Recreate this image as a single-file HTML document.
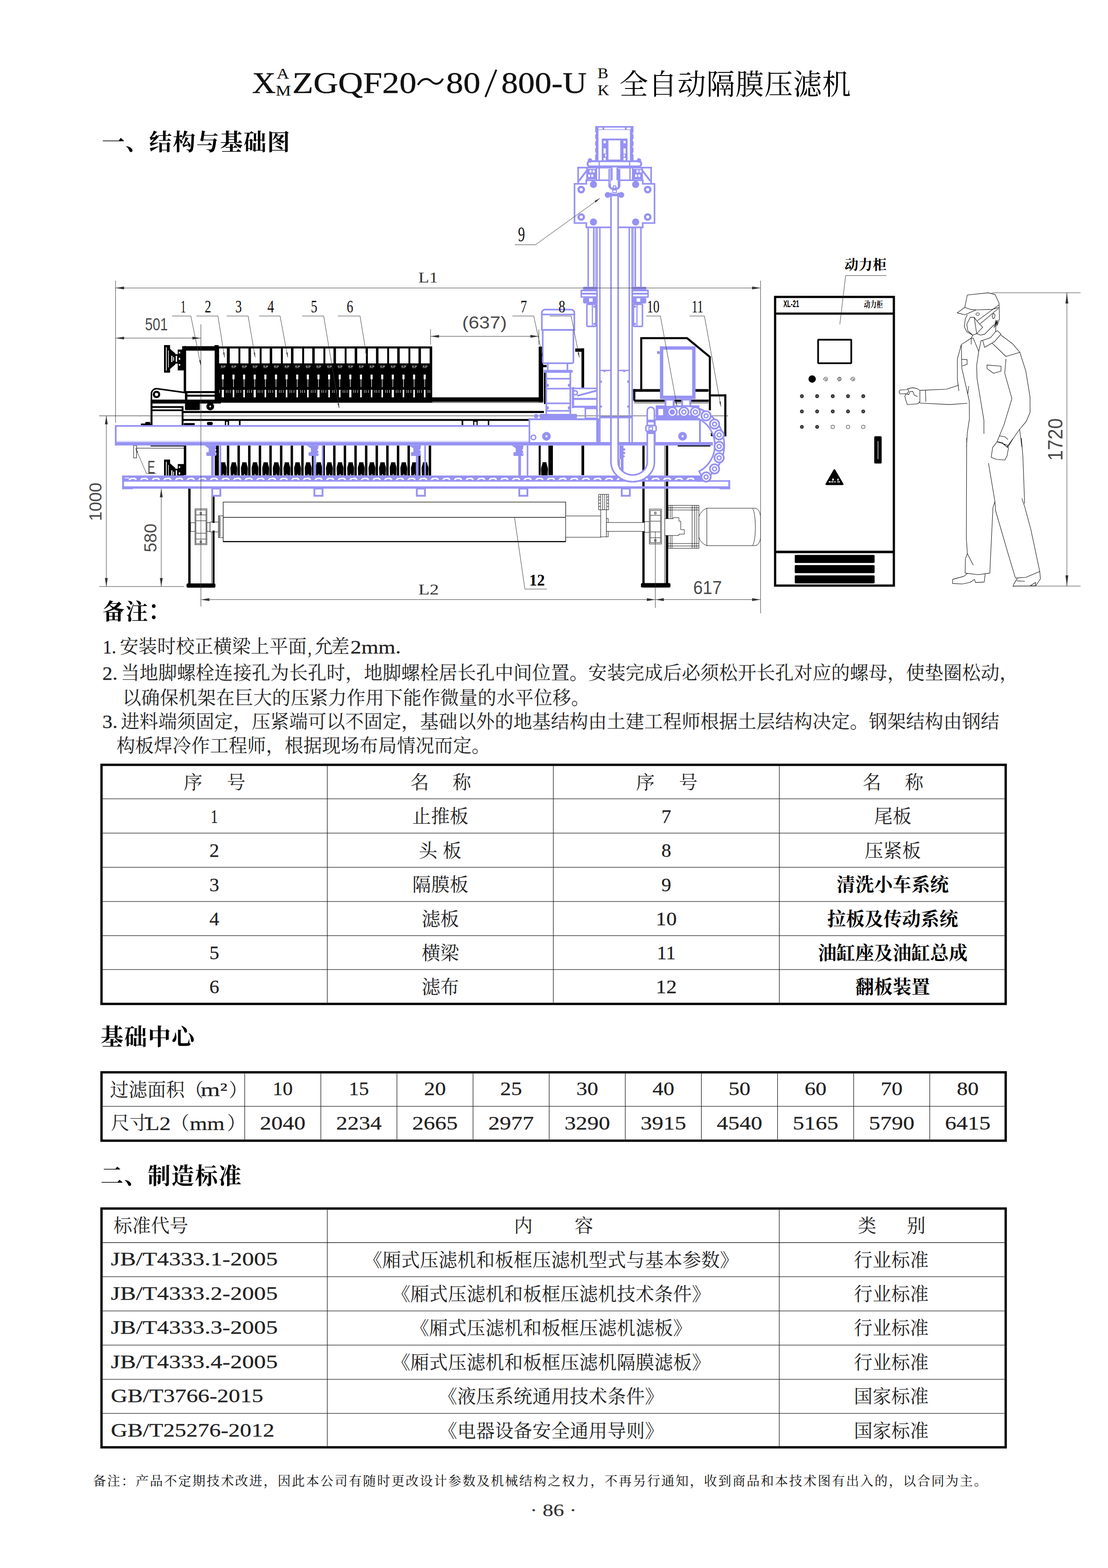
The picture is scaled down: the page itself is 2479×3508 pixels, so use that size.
<!DOCTYPE html>
<html lang="zh"><head><meta charset="utf-8"><title>XZGQF20~80/800-U</title>
<style>
html,body{margin:0;padding:0;background:#fff}
body{width:2479px;height:3508px;overflow:hidden}
svg{display:block}
svg{font-family:"Liberation Serif","Noto Serif CJK SC",serif}
text{white-space:pre}
</style></head><body>
<svg width="2479" height="3508" viewBox="0 0 2479 3508">
<rect width="2479" height="3508" fill="#fff"/>
<rect x="488" y="775" width="479" height="125" fill="#000"/>
<rect x="480" y="772" width="9" height="10" fill="#000"/>
<rect x="490.2" y="779.6" width="17.4" height="33.4" fill="#fff"/>
<rect x="514" y="779.6" width="19.5" height="33.4" fill="#fff"/>
<rect x="537.7" y="779.6" width="18.2" height="33.4" fill="#fff"/>
<rect x="561.5" y="779.6" width="19.5" height="33.4" fill="#fff"/>
<rect x="585.3" y="779.6" width="18.2" height="33.4" fill="#fff"/>
<rect x="609" y="779.6" width="19.5" height="33.4" fill="#fff"/>
<rect x="632.8" y="779.6" width="18.2" height="33.4" fill="#fff"/>
<rect x="656.6" y="779.6" width="19.5" height="33.4" fill="#fff"/>
<rect x="680.4" y="779.6" width="18.2" height="33.4" fill="#fff"/>
<rect x="704.1" y="779.6" width="19.5" height="33.4" fill="#fff"/>
<rect x="727.9" y="779.6" width="18.2" height="33.4" fill="#fff"/>
<rect x="751.7" y="779.6" width="19.5" height="33.4" fill="#fff"/>
<rect x="775.4" y="779.6" width="18.2" height="33.4" fill="#fff"/>
<rect x="799.2" y="779.6" width="19.5" height="33.4" fill="#fff"/>
<rect x="823" y="779.6" width="18.2" height="33.4" fill="#fff"/>
<rect x="846.8" y="779.6" width="19.5" height="33.4" fill="#fff"/>
<rect x="870.5" y="779.6" width="18.2" height="33.4" fill="#fff"/>
<rect x="894.3" y="779.6" width="19.5" height="33.4" fill="#fff"/>
<rect x="918.1" y="779.6" width="18.2" height="33.4" fill="#fff"/>
<rect x="941.8" y="779.6" width="19.5" height="33.4" fill="#fff"/>
<rect x="494.1" y="818.6" width="4" height="1.6" fill="#fff"/>
<rect x="499.6" y="818.6" width="5" height="1.6" fill="#fff"/>
<rect x="494.1" y="822" width="9" height="0.8" fill="#fff"/>
<rect x="496.3" y="838" width="4.6" height="10.5" fill="#fff"/>
<rect x="498" y="848" width="1.2" height="18" fill="#fff"/>
<rect x="496.2" y="872" width="4.8" height="17" fill="#fff"/>
<rect x="490.8" y="872.5" width="1" height="6.5" fill="#fff"/>
<rect x="505.7" y="872.5" width="1" height="6.5" fill="#fff"/>
<rect x="509.6" y="872.5" width="1" height="6.5" fill="#fff"/>
<rect x="517.9" y="818.6" width="4" height="1.6" fill="#fff"/>
<rect x="523.4" y="818.6" width="5" height="1.6" fill="#fff"/>
<rect x="517.9" y="822" width="9" height="0.8" fill="#fff"/>
<rect x="520.1" y="838" width="4.6" height="10.5" fill="#fff"/>
<rect x="521.8" y="848" width="1.2" height="18" fill="#fff"/>
<rect x="520.7" y="872" width="3.4" height="17" fill="#fff"/>
<rect x="514.6" y="872.5" width="1" height="6.5" fill="#fff"/>
<rect x="529.5" y="872.5" width="1" height="6.5" fill="#fff"/>
<rect x="533.4" y="872.5" width="1" height="6.5" fill="#fff"/>
<rect x="541.6" y="818.6" width="4" height="1.6" fill="#fff"/>
<rect x="547.1" y="818.6" width="5" height="1.6" fill="#fff"/>
<rect x="541.6" y="822" width="9" height="0.8" fill="#fff"/>
<rect x="543.8" y="838" width="4.6" height="10.5" fill="#fff"/>
<rect x="545.5" y="848" width="1.2" height="18" fill="#fff"/>
<rect x="544.4" y="872" width="3.4" height="17" fill="#fff"/>
<rect x="538.3" y="872.5" width="1" height="6.5" fill="#fff"/>
<rect x="553.2" y="872.5" width="1" height="6.5" fill="#fff"/>
<rect x="557.1" y="872.5" width="1" height="6.5" fill="#fff"/>
<rect x="565.4" y="818.6" width="4" height="1.6" fill="#fff"/>
<rect x="570.9" y="818.6" width="5" height="1.6" fill="#fff"/>
<rect x="565.4" y="822" width="9" height="0.8" fill="#fff"/>
<rect x="567.6" y="838" width="4.6" height="10.5" fill="#fff"/>
<rect x="569.3" y="848" width="1.2" height="18" fill="#fff"/>
<rect x="567.5" y="872" width="4.8" height="17" fill="#fff"/>
<rect x="562.1" y="872.5" width="1" height="6.5" fill="#fff"/>
<rect x="577" y="872.5" width="1" height="6.5" fill="#fff"/>
<rect x="580.9" y="872.5" width="1" height="6.5" fill="#fff"/>
<rect x="589.2" y="818.6" width="4" height="1.6" fill="#fff"/>
<rect x="594.7" y="818.6" width="5" height="1.6" fill="#fff"/>
<rect x="589.2" y="822" width="9" height="0.8" fill="#fff"/>
<rect x="591.4" y="838" width="4.6" height="10.5" fill="#fff"/>
<rect x="593.1" y="848" width="1.2" height="18" fill="#fff"/>
<rect x="592" y="872" width="3.4" height="17" fill="#fff"/>
<rect x="585.9" y="872.5" width="1" height="6.5" fill="#fff"/>
<rect x="600.8" y="872.5" width="1" height="6.5" fill="#fff"/>
<rect x="604.7" y="872.5" width="1" height="6.5" fill="#fff"/>
<rect x="613" y="818.6" width="4" height="1.6" fill="#fff"/>
<rect x="618.5" y="818.6" width="5" height="1.6" fill="#fff"/>
<rect x="613" y="822" width="9" height="0.8" fill="#fff"/>
<rect x="615.2" y="838" width="4.6" height="10.5" fill="#fff"/>
<rect x="616.9" y="848" width="1.2" height="18" fill="#fff"/>
<rect x="615.8" y="872" width="3.4" height="17" fill="#fff"/>
<rect x="609.7" y="872.5" width="1" height="6.5" fill="#fff"/>
<rect x="624.6" y="872.5" width="1" height="6.5" fill="#fff"/>
<rect x="628.5" y="872.5" width="1" height="6.5" fill="#fff"/>
<rect x="636.7" y="818.6" width="4" height="1.6" fill="#fff"/>
<rect x="642.2" y="818.6" width="5" height="1.6" fill="#fff"/>
<rect x="636.7" y="822" width="9" height="0.8" fill="#fff"/>
<rect x="638.9" y="838" width="4.6" height="10.5" fill="#fff"/>
<rect x="640.6" y="848" width="1.2" height="18" fill="#fff"/>
<rect x="639.5" y="872" width="3.4" height="17" fill="#fff"/>
<rect x="633.4" y="872.5" width="1" height="6.5" fill="#fff"/>
<rect x="648.3" y="872.5" width="1" height="6.5" fill="#fff"/>
<rect x="652.2" y="872.5" width="1" height="6.5" fill="#fff"/>
<rect x="660.5" y="818.6" width="4" height="1.6" fill="#fff"/>
<rect x="666" y="818.6" width="5" height="1.6" fill="#fff"/>
<rect x="660.5" y="822" width="9" height="0.8" fill="#fff"/>
<rect x="662.7" y="838" width="4.6" height="10.5" fill="#fff"/>
<rect x="664.4" y="848" width="1.2" height="18" fill="#fff"/>
<rect x="663.3" y="872" width="3.4" height="17" fill="#fff"/>
<rect x="657.2" y="872.5" width="1" height="6.5" fill="#fff"/>
<rect x="672.1" y="872.5" width="1" height="6.5" fill="#fff"/>
<rect x="676" y="872.5" width="1" height="6.5" fill="#fff"/>
<rect x="684.3" y="818.6" width="4" height="1.6" fill="#fff"/>
<rect x="689.8" y="818.6" width="5" height="1.6" fill="#fff"/>
<rect x="684.3" y="822" width="9" height="0.8" fill="#fff"/>
<rect x="686.5" y="838" width="4.6" height="10.5" fill="#fff"/>
<rect x="688.2" y="848" width="1.2" height="18" fill="#fff"/>
<rect x="687.1" y="872" width="3.4" height="17" fill="#fff"/>
<rect x="681" y="872.5" width="1" height="6.5" fill="#fff"/>
<rect x="695.9" y="872.5" width="1" height="6.5" fill="#fff"/>
<rect x="699.8" y="872.5" width="1" height="6.5" fill="#fff"/>
<rect x="708" y="818.6" width="4" height="1.6" fill="#fff"/>
<rect x="713.5" y="818.6" width="5" height="1.6" fill="#fff"/>
<rect x="708" y="822" width="9" height="0.8" fill="#fff"/>
<rect x="710.2" y="838" width="4.6" height="10.5" fill="#fff"/>
<rect x="711.9" y="848" width="1.2" height="18" fill="#fff"/>
<rect x="710.1" y="872" width="4.8" height="17" fill="#fff"/>
<rect x="704.7" y="872.5" width="1" height="6.5" fill="#fff"/>
<rect x="719.6" y="872.5" width="1" height="6.5" fill="#fff"/>
<rect x="723.5" y="872.5" width="1" height="6.5" fill="#fff"/>
<rect x="731.8" y="818.6" width="4" height="1.6" fill="#fff"/>
<rect x="737.3" y="818.6" width="5" height="1.6" fill="#fff"/>
<rect x="731.8" y="822" width="9" height="0.8" fill="#fff"/>
<rect x="734" y="838" width="4.6" height="10.5" fill="#fff"/>
<rect x="735.7" y="848" width="1.2" height="18" fill="#fff"/>
<rect x="734.6" y="872" width="3.4" height="17" fill="#fff"/>
<rect x="728.5" y="872.5" width="1" height="6.5" fill="#fff"/>
<rect x="743.4" y="872.5" width="1" height="6.5" fill="#fff"/>
<rect x="747.3" y="872.5" width="1" height="6.5" fill="#fff"/>
<rect x="755.6" y="818.6" width="4" height="1.6" fill="#fff"/>
<rect x="761.1" y="818.6" width="5" height="1.6" fill="#fff"/>
<rect x="755.6" y="822" width="9" height="0.8" fill="#fff"/>
<rect x="757.8" y="838" width="4.6" height="10.5" fill="#fff"/>
<rect x="759.5" y="848" width="1.2" height="18" fill="#fff"/>
<rect x="758.4" y="872" width="3.4" height="17" fill="#fff"/>
<rect x="752.3" y="872.5" width="1" height="6.5" fill="#fff"/>
<rect x="767.2" y="872.5" width="1" height="6.5" fill="#fff"/>
<rect x="771.1" y="872.5" width="1" height="6.5" fill="#fff"/>
<rect x="779.3" y="818.6" width="4" height="1.6" fill="#fff"/>
<rect x="784.8" y="818.6" width="5" height="1.6" fill="#fff"/>
<rect x="779.3" y="822" width="9" height="0.8" fill="#fff"/>
<rect x="781.5" y="838" width="4.6" height="10.5" fill="#fff"/>
<rect x="783.2" y="848" width="1.2" height="18" fill="#fff"/>
<rect x="781.4" y="872" width="4.8" height="17" fill="#fff"/>
<rect x="776" y="872.5" width="1" height="6.5" fill="#fff"/>
<rect x="790.9" y="872.5" width="1" height="6.5" fill="#fff"/>
<rect x="794.8" y="872.5" width="1" height="6.5" fill="#fff"/>
<rect x="803.1" y="818.6" width="4" height="1.6" fill="#fff"/>
<rect x="808.6" y="818.6" width="5" height="1.6" fill="#fff"/>
<rect x="803.1" y="822" width="9" height="0.8" fill="#fff"/>
<rect x="805.3" y="838" width="4.6" height="10.5" fill="#fff"/>
<rect x="807" y="848" width="1.2" height="18" fill="#fff"/>
<rect x="805.9" y="872" width="3.4" height="17" fill="#fff"/>
<rect x="799.8" y="872.5" width="1" height="6.5" fill="#fff"/>
<rect x="814.7" y="872.5" width="1" height="6.5" fill="#fff"/>
<rect x="818.6" y="872.5" width="1" height="6.5" fill="#fff"/>
<rect x="826.9" y="818.6" width="4" height="1.6" fill="#fff"/>
<rect x="832.4" y="818.6" width="5" height="1.6" fill="#fff"/>
<rect x="826.9" y="822" width="9" height="0.8" fill="#fff"/>
<rect x="829.1" y="838" width="4.6" height="10.5" fill="#fff"/>
<rect x="830.8" y="848" width="1.2" height="18" fill="#fff"/>
<rect x="829.7" y="872" width="3.4" height="17" fill="#fff"/>
<rect x="823.6" y="872.5" width="1" height="6.5" fill="#fff"/>
<rect x="838.5" y="872.5" width="1" height="6.5" fill="#fff"/>
<rect x="842.4" y="872.5" width="1" height="6.5" fill="#fff"/>
<rect x="850.7" y="818.6" width="4" height="1.6" fill="#fff"/>
<rect x="856.2" y="818.6" width="5" height="1.6" fill="#fff"/>
<rect x="850.7" y="822" width="9" height="0.8" fill="#fff"/>
<rect x="852.9" y="838" width="4.6" height="10.5" fill="#fff"/>
<rect x="854.6" y="848" width="1.2" height="18" fill="#fff"/>
<rect x="853.5" y="872" width="3.4" height="17" fill="#fff"/>
<rect x="847.4" y="872.5" width="1" height="6.5" fill="#fff"/>
<rect x="862.3" y="872.5" width="1" height="6.5" fill="#fff"/>
<rect x="866.2" y="872.5" width="1" height="6.5" fill="#fff"/>
<rect x="874.4" y="818.6" width="4" height="1.6" fill="#fff"/>
<rect x="879.9" y="818.6" width="5" height="1.6" fill="#fff"/>
<rect x="874.4" y="822" width="9" height="0.8" fill="#fff"/>
<rect x="876.6" y="838" width="4.6" height="10.5" fill="#fff"/>
<rect x="878.3" y="848" width="1.2" height="18" fill="#fff"/>
<rect x="876.5" y="872" width="4.8" height="17" fill="#fff"/>
<rect x="871.1" y="872.5" width="1" height="6.5" fill="#fff"/>
<rect x="886" y="872.5" width="1" height="6.5" fill="#fff"/>
<rect x="889.9" y="872.5" width="1" height="6.5" fill="#fff"/>
<rect x="898.2" y="818.6" width="4" height="1.6" fill="#fff"/>
<rect x="903.7" y="818.6" width="5" height="1.6" fill="#fff"/>
<rect x="898.2" y="822" width="9" height="0.8" fill="#fff"/>
<rect x="900.4" y="838" width="4.6" height="10.5" fill="#fff"/>
<rect x="902.1" y="848" width="1.2" height="18" fill="#fff"/>
<rect x="901" y="872" width="3.4" height="17" fill="#fff"/>
<rect x="894.9" y="872.5" width="1" height="6.5" fill="#fff"/>
<rect x="909.8" y="872.5" width="1" height="6.5" fill="#fff"/>
<rect x="913.7" y="872.5" width="1" height="6.5" fill="#fff"/>
<rect x="922" y="818.6" width="4" height="1.6" fill="#fff"/>
<rect x="927.5" y="818.6" width="5" height="1.6" fill="#fff"/>
<rect x="922" y="822" width="9" height="0.8" fill="#fff"/>
<rect x="924.2" y="838" width="4.6" height="10.5" fill="#fff"/>
<rect x="925.9" y="848" width="1.2" height="18" fill="#fff"/>
<rect x="924.8" y="872" width="3.4" height="17" fill="#fff"/>
<rect x="918.7" y="872.5" width="1" height="6.5" fill="#fff"/>
<rect x="933.6" y="872.5" width="1" height="6.5" fill="#fff"/>
<rect x="937.5" y="872.5" width="1" height="6.5" fill="#fff"/>
<rect x="945.7" y="818.6" width="4" height="1.6" fill="#fff"/>
<rect x="951.2" y="818.6" width="5" height="1.6" fill="#fff"/>
<rect x="945.7" y="822" width="9" height="0.8" fill="#fff"/>
<rect x="947.9" y="838" width="4.6" height="10.5" fill="#fff"/>
<rect x="949.6" y="848" width="1.2" height="18" fill="#fff"/>
<rect x="948.5" y="872" width="3.4" height="17" fill="#fff"/>
<rect x="942.4" y="872.5" width="1" height="6.5" fill="#fff"/>
<rect x="957.3" y="872.5" width="1" height="6.5" fill="#fff"/>
<rect x="961.2" y="872.5" width="1" height="6.5" fill="#fff"/>
<rect x="407.5" y="774.5" width="82" height="10" fill="#000"/>
<rect x="411" y="774.5" width="5.4" height="105" fill="#000"/>
<rect x="480.3" y="774.5" width="9" height="125" fill="#000"/>
<rect x="411" y="875" width="78" height="4.5" fill="#000"/>
<rect x="416" y="883" width="73" height="4.4" fill="#000"/>
<rect x="337" y="894" width="157" height="8.8" fill="#000"/>
<rect x="413.8" y="902" width="33.5" height="15.5" fill="#000" rx="2"/>
<circle cx="470.4" cy="909.3" r="5.4" fill="#fff" stroke="#000" stroke-width="6.6"/>
<g transform="translate(0 0)">
<rect x="367" y="772" width="13.5" height="61.7" fill="#000"/>
<rect x="371.2" y="777" width="1.8" height="52" fill="#fff"/>
<rect x="376" y="784" width="1.4" height="38" fill="#fff"/>
<path d="M380.5 781 L392 791 L392 815 L380.5 825 Z" fill="#000" stroke="#000" stroke-width="1" />
<rect x="383.2" y="796" width="2.4" height="14" fill="#fff"/>
<rect x="387.4" y="799" width="2" height="8" fill="#fff"/>
<rect x="391" y="792.5" width="7.5" height="21" fill="#000"/>
<rect x="393.2" y="796" width="3" height="13.5" fill="#fff"/>
<rect x="397.7" y="782" width="14.5" height="46.7" fill="#000"/>
<rect x="400" y="787" width="3.2" height="3.6" fill="#fff"/>
<rect x="400" y="800.5" width="3.2" height="4.6" fill="#fff"/>
<rect x="400" y="814.5" width="3.2" height="3.6" fill="#fff"/>
</g>
<circle cx="350.2" cy="882.5" r="6" fill="#fff" stroke="#000" stroke-width="4.7"/>
<path d="M338.8 896 L338.8 881 A11.5 11.5 0 0 1 351.5 869.6 L413.8 878.2" fill="none" stroke="#000" stroke-width="3.4" />
<rect x="336.8" y="894" width="4.4" height="57" fill="#000"/>
<rect x="341" y="908.6" width="69" height="4" fill="#000"/>
<rect x="341" y="916" width="66" height="3.7" fill="#000"/>
<rect x="413.8" y="875" width="5.4" height="20" fill="#000"/>
<rect x="406.4" y="909" width="4.2" height="42" fill="#000"/>
<rect x="315" y="947.5" width="22" height="3.5" fill="#000" rx="1.5"/>
<rect x="325" y="944" width="11" height="4" fill="#000" rx="1.5"/>
<rect x="411" y="946.5" width="25" height="4.5" fill="#000" rx="2"/>
<rect x="463" y="944" width="13" height="7" fill="#000" rx="3"/>
<rect x="410" y="919.4" width="807" height="4.6" fill="#000"/>
<rect x="410" y="937.4" width="773" height="4.2" fill="#000"/>
<line x1="494" y1="900.6" x2="1215" y2="900.6" stroke="#000" stroke-width="1"/>
<rect x="1032.8" y="941" width="3.6" height="10" fill="#000"/>
<rect x="1058.7" y="941" width="2.4" height="10" fill="#000"/>
<rect x="1066.2" y="941" width="2.4" height="10" fill="#000"/>
<rect x="1091.5" y="941" width="3" height="10" fill="#000"/>
<rect x="1058.7" y="941" width="10" height="3" fill="#000"/>
<rect x="503" y="941" width="9.5" height="10" fill="#000"/>
<rect x="506" y="943.5" width="3.4" height="7.5" fill="#fff"/>
<rect x="534.6" y="941" width="3.6" height="10" fill="#000"/>
<rect x="1061.6" y="943.5" width="3.4" height="7.5" fill="#fff"/>
<rect x="966.8" y="889" width="248.4" height="10" fill="#000"/>
<rect x="1205.3" y="775.5" width="10" height="124" fill="#000"/>
<rect x="1217" y="832" width="5" height="72" fill="#000"/>
<rect x="1215" y="816.5" width="8" height="5" fill="#000"/>
<rect x="1287" y="779.5" width="20" height="7.5" fill="#000"/>
<rect x="1301" y="779.5" width="6" height="88" fill="#000"/>
<path d="M1434.7 872 L1434.7 756.5 L1537.2 756.5 L1588.2 798.5 L1588.2 918" fill="none" stroke="#000" stroke-width="4.6" />
<rect x="1416.5" y="870.5" width="169" height="6" fill="#000" rx="2"/>
<rect x="1419" y="894" width="166.5" height="5.2" fill="#000"/>
<line x1="1419" y1="901.5" x2="1585" y2="901.5" stroke="#000" stroke-width="1"/>
<rect x="1416.5" y="870.5" width="5" height="26" fill="#000"/>
<rect x="1588" y="882.3" width="37" height="4.6" fill="#000"/>
<rect x="1620.4" y="882.3" width="4.8" height="94" fill="#000"/>
<rect x="1590.5" y="952" width="8" height="4" fill="#000"/>
<rect x="1590.5" y="968" width="6" height="8" fill="#000"/>
<rect x="1516.3" y="995.7" width="73" height="3.2" fill="#000"/>
<line x1="221.8" y1="930.3" x2="1629" y2="930.3" stroke="#222" stroke-width="1"/>
<rect x="480.4" y="996.8" width="9.3" height="67" fill="#000"/>
<rect x="507.6" y="996.8" width="5.4" height="67" fill="#000"/>
<rect x="531.3" y="996.8" width="5.4" height="67" fill="#000"/>
<rect x="555.1" y="996.8" width="5.4" height="67" fill="#000"/>
<rect x="578.9" y="996.8" width="5.4" height="67" fill="#000"/>
<rect x="602.6" y="996.8" width="5.4" height="67" fill="#000"/>
<rect x="626.4" y="996.8" width="5.4" height="67" fill="#000"/>
<rect x="650.2" y="996.8" width="5.4" height="67" fill="#000"/>
<rect x="674" y="996.8" width="5.4" height="67" fill="#000"/>
<rect x="697.7" y="996.8" width="5.4" height="67" fill="#000"/>
<rect x="721.5" y="996.8" width="5.4" height="67" fill="#000"/>
<rect x="745.3" y="996.8" width="5.4" height="67" fill="#000"/>
<rect x="769" y="996.8" width="5.4" height="67" fill="#000"/>
<rect x="792.8" y="996.8" width="5.4" height="67" fill="#000"/>
<rect x="816.6" y="996.8" width="5.4" height="67" fill="#000"/>
<rect x="840.3" y="996.8" width="5.4" height="67" fill="#000"/>
<rect x="864.1" y="996.8" width="5.4" height="67" fill="#000"/>
<rect x="887.9" y="996.8" width="5.4" height="67" fill="#000"/>
<rect x="911.7" y="996.8" width="5.4" height="67" fill="#000"/>
<rect x="935.4" y="996.8" width="5.4" height="67" fill="#000"/>
<rect x="959.2" y="996.8" width="5.4" height="67" fill="#000"/>
<path d="M492.2 1063.5 L491.6 1048 C491.6 1043 494 1041 494.6 1034.2 L504 1034.2 C504.6 1041 507 1043 507 1048 L506.4 1063.5 Z" fill="#000" stroke="none" stroke-width="0" />
<rect x="498.5" y="1060.5" width="1.6" height="3" fill="#fff"/>
<path d="M516 1063.5 L515.4 1048 C515.4 1043 517.8 1041 518.4 1034.2 L527.8 1034.2 C528.4 1041 530.8 1043 530.8 1048 L530.2 1063.5 Z" fill="#000" stroke="none" stroke-width="0" />
<rect x="522.3" y="1060.5" width="1.6" height="3" fill="#fff"/>
<path d="M539.7 1063.5 L539.1 1048 C539.1 1043 541.5 1041 542.1 1034.2 L551.5 1034.2 C552.1 1041 554.5 1043 554.5 1048 L553.9 1063.5 Z" fill="#000" stroke="none" stroke-width="0" />
<rect x="546" y="1060.5" width="1.6" height="3" fill="#fff"/>
<path d="M563.5 1063.5 L562.9 1048 C562.9 1043 565.3 1041 565.9 1034.2 L575.3 1034.2 C575.9 1041 578.3 1043 578.3 1048 L577.7 1063.5 Z" fill="#000" stroke="none" stroke-width="0" />
<rect x="569.8" y="1060.5" width="1.6" height="3" fill="#fff"/>
<path d="M587.3 1063.5 L586.7 1048 C586.7 1043 589.1 1041 589.7 1034.2 L599.1 1034.2 C599.7 1041 602.1 1043 602.1 1048 L601.5 1063.5 Z" fill="#000" stroke="none" stroke-width="0" />
<rect x="593.6" y="1060.5" width="1.6" height="3" fill="#fff"/>
<path d="M611 1063.5 L610.4 1048 C610.4 1043 612.9 1041 613.4 1034.2 L622.9 1034.2 C623.4 1041 625.9 1043 625.9 1048 L625.2 1063.5 Z" fill="#000" stroke="none" stroke-width="0" />
<rect x="617.4" y="1060.5" width="1.6" height="3" fill="#fff"/>
<path d="M634.8 1063.5 L634.2 1048 C634.2 1043 636.6 1041 637.2 1034.2 L646.6 1034.2 C647.2 1041 649.6 1043 649.6 1048 L649 1063.5 Z" fill="#000" stroke="none" stroke-width="0" />
<rect x="641.1" y="1060.5" width="1.6" height="3" fill="#fff"/>
<path d="M658.6 1063.5 L658 1048 C658 1043 660.4 1041 661 1034.2 L670.4 1034.2 C671 1041 673.4 1043 673.4 1048 L672.8 1063.5 Z" fill="#000" stroke="none" stroke-width="0" />
<rect x="664.9" y="1060.5" width="1.6" height="3" fill="#fff"/>
<path d="M682.4 1063.5 L681.8 1048 C681.8 1043 684.2 1041 684.8 1034.2 L694.2 1034.2 C694.8 1041 697.2 1043 697.2 1048 L696.6 1063.5 Z" fill="#000" stroke="none" stroke-width="0" />
<rect x="688.7" y="1060.5" width="1.6" height="3" fill="#fff"/>
<path d="M706.1 1063.5 L705.5 1048 C705.5 1043 707.9 1041 708.5 1034.2 L717.9 1034.2 C718.5 1041 720.9 1043 720.9 1048 L720.3 1063.5 Z" fill="#000" stroke="none" stroke-width="0" />
<rect x="712.4" y="1060.5" width="1.6" height="3" fill="#fff"/>
<path d="M729.9 1063.5 L729.3 1048 C729.3 1043 731.7 1041 732.3 1034.2 L741.7 1034.2 C742.3 1041 744.7 1043 744.7 1048 L744.1 1063.5 Z" fill="#000" stroke="none" stroke-width="0" />
<rect x="736.2" y="1060.5" width="1.6" height="3" fill="#fff"/>
<path d="M753.7 1063.5 L753.1 1048 C753.1 1043 755.5 1041 756.1 1034.2 L765.5 1034.2 C766.1 1041 768.5 1043 768.5 1048 L767.9 1063.5 Z" fill="#000" stroke="none" stroke-width="0" />
<rect x="760" y="1060.5" width="1.6" height="3" fill="#fff"/>
<path d="M777.4 1063.5 L776.8 1048 C776.8 1043 779.2 1041 779.8 1034.2 L789.2 1034.2 C789.8 1041 792.2 1043 792.2 1048 L791.6 1063.5 Z" fill="#000" stroke="none" stroke-width="0" />
<rect x="783.7" y="1060.5" width="1.6" height="3" fill="#fff"/>
<path d="M801.2 1063.5 L800.6 1048 C800.6 1043 803 1041 803.6 1034.2 L813 1034.2 C813.6 1041 816 1043 816 1048 L815.4 1063.5 Z" fill="#000" stroke="none" stroke-width="0" />
<rect x="807.5" y="1060.5" width="1.6" height="3" fill="#fff"/>
<path d="M825 1063.5 L824.4 1048 C824.4 1043 826.8 1041 827.4 1034.2 L836.8 1034.2 C837.4 1041 839.8 1043 839.8 1048 L839.2 1063.5 Z" fill="#000" stroke="none" stroke-width="0" />
<rect x="831.3" y="1060.5" width="1.6" height="3" fill="#fff"/>
<path d="M848.8 1063.5 L848.1 1048 C848.1 1043 850.6 1041 851.1 1034.2 L860.6 1034.2 C861.1 1041 863.6 1043 863.6 1048 L863 1063.5 Z" fill="#000" stroke="none" stroke-width="0" />
<rect x="855.1" y="1060.5" width="1.6" height="3" fill="#fff"/>
<path d="M872.5 1063.5 L871.9 1048 C871.9 1043 874.3 1041 874.9 1034.2 L884.3 1034.2 C884.9 1041 887.3 1043 887.3 1048 L886.7 1063.5 Z" fill="#000" stroke="none" stroke-width="0" />
<rect x="878.8" y="1060.5" width="1.6" height="3" fill="#fff"/>
<path d="M896.3 1063.5 L895.7 1048 C895.7 1043 898.1 1041 898.7 1034.2 L908.1 1034.2 C908.7 1041 911.1 1043 911.1 1048 L910.5 1063.5 Z" fill="#000" stroke="none" stroke-width="0" />
<rect x="902.6" y="1060.5" width="1.6" height="3" fill="#fff"/>
<path d="M920.1 1063.5 L919.5 1048 C919.5 1043 921.9 1041 922.5 1034.2 L931.9 1034.2 C932.5 1041 934.9 1043 934.9 1048 L934.3 1063.5 Z" fill="#000" stroke="none" stroke-width="0" />
<rect x="926.4" y="1060.5" width="1.6" height="3" fill="#fff"/>
<path d="M943.8 1063.5 L943.2 1048 C943.2 1043 945.6 1041 946.2 1034.2 L955.6 1034.2 C956.2 1041 958.6 1043 958.6 1048 L958 1063.5 Z" fill="#000" stroke="none" stroke-width="0" />
<rect x="950.1" y="1060.5" width="1.6" height="3" fill="#fff"/>
<rect x="336.8" y="996.8" width="79" height="2" fill="#000"/>
<line x1="305" y1="1002.7" x2="412" y2="1002.7" stroke="#000" stroke-width="1"/>
<rect x="411.3" y="996.8" width="5.4" height="66" fill="#000"/>
<clipPath id="cpw"><rect x="360" y="760" width="60" height="47.6"/></clipPath>
<g transform="translate(0 256.2)" clip-path="url(#cpw)">
<rect x="367" y="772" width="13.5" height="61.7" fill="#000"/>
<rect x="371.2" y="777" width="1.8" height="52" fill="#fff"/>
<rect x="376" y="784" width="1.4" height="38" fill="#fff"/>
<path d="M380.5 781 L392 791 L392 815 L380.5 825 Z" fill="#000" stroke="#000" stroke-width="1" />
<rect x="383.2" y="796" width="2.4" height="14" fill="#fff"/>
<rect x="387.4" y="799" width="2" height="8" fill="#fff"/>
<rect x="391" y="792.5" width="7.5" height="21" fill="#000"/>
<rect x="393.2" y="796" width="3" height="13.5" fill="#fff"/>
<rect x="397.7" y="782" width="14.5" height="46.7" fill="#000"/>
<rect x="400" y="787" width="3.2" height="3.6" fill="#fff"/>
<rect x="400" y="800.5" width="3.2" height="4.6" fill="#fff"/>
<rect x="400" y="814.5" width="3.2" height="3.6" fill="#fff"/>
</g>
<rect x="298.9" y="996.8" width="6.7" height="27.6" fill="#fff" stroke="#000" stroke-width="1"/>
<rect x="1205.3" y="997" width="4.4" height="66" fill="#000"/>
<rect x="1227" y="997" width="10" height="66" fill="#000"/>
<rect x="1301" y="997" width="6" height="66" fill="#000"/>
<path d="M1211 1063.5 L1210.5 1050 C1210.5 1043 1213.4 1041 1214 1033.9 L1222.4 1033.9 C1223 1041 1226 1043 1226 1050 L1225.4 1063.5 Z" fill="#000" stroke="none" stroke-width="0" />
<rect x="421.2" y="1092.4" width="5.2" height="214" fill="#000"/>
<line x1="473.9" y1="1111" x2="473.9" y2="1306" stroke="#000" stroke-width="1"/>
<rect x="475.8" y="1111" width="4.2" height="195" fill="#000"/>
<rect x="417.3" y="1305.3" width="64.7" height="9.4" fill="#000" rx="3"/>
<rect x="1437.2" y="997" width="5" height="309" fill="#000"/>
<line x1="1487.6" y1="997" x2="1487.6" y2="1306" stroke="#000" stroke-width="1"/>
<rect x="1489.8" y="997" width="5.2" height="309" fill="#000"/>
<rect x="1434" y="1304.6" width="66" height="9.8" fill="#000" rx="3"/>
<rect x="436.3" y="1138.3" width="26.6" height="80.3" fill="#fff" stroke="#111" stroke-width="1"/>
<rect x="438.3" y="1141" width="22.6" height="75" fill="none" stroke="#111" stroke-width="1"/>
<line x1="438.3" y1="1152" x2="460.9" y2="1152" stroke="#111" stroke-width="1"/>
<line x1="438.3" y1="1165" x2="460.9" y2="1165" stroke="#111" stroke-width="1"/>
<line x1="438.3" y1="1193" x2="460.9" y2="1193" stroke="#111" stroke-width="1"/>
<line x1="438.3" y1="1206" x2="460.9" y2="1206" stroke="#111" stroke-width="1"/>
<rect x="447.6" y="1146.5" width="3.4" height="4" fill="#fff" stroke="#111" stroke-width="1"/>
<rect x="447.6" y="1210" width="3.4" height="4" fill="#fff" stroke="#111" stroke-width="1"/>
<rect x="426.4" y="1169.3" width="10" height="19.7" fill="#fff" stroke="#111" stroke-width="1"/>
<rect x="462.9" y="1169.3" width="7" height="19.7" fill="#fff" stroke="#111" stroke-width="1"/>
<rect x="469.9" y="1168" width="18.7" height="22" fill="#fff" stroke="#111" stroke-width="1"/>
<rect x="475.6" y="1166" width="4.4" height="4" fill="#000"/>
<rect x="475.6" y="1187" width="4.4" height="4" fill="#000"/>
<rect x="488.6" y="1154" width="10.8" height="48.8" fill="#fff" stroke="#111" stroke-width="1"/>
<line x1="490.6" y1="1154" x2="490.6" y2="1202.8" stroke="#111" stroke-width="1"/>
<line x1="492.4" y1="1156" x2="492.4" y2="1201" stroke="#111" stroke-width="1"/>
<rect x="499.4" y="1123.3" width="766.2" height="88.6" fill="#fff" stroke="#111" stroke-width="1.3"/>
<line x1="499.4" y1="1157.5" x2="1265.6" y2="1157.5" stroke="#111" stroke-width="1.3"/>
<line x1="499.4" y1="1211.8" x2="1265.6" y2="1211.8" stroke="#000" stroke-width="2.4"/>
<rect x="1265.6" y="1154.3" width="78.8" height="47.7" fill="#fff" stroke="#111" stroke-width="1"/>
<rect x="1339.5" y="1106" width="22.2" height="34.5" fill="#fff" stroke="#111" stroke-width="1"/>
<line x1="1344" y1="1106" x2="1344" y2="1140.5" stroke="#111" stroke-width="1"/>
<line x1="1348.5" y1="1106" x2="1348.5" y2="1140.5" stroke="#111" stroke-width="1"/>
<line x1="1353" y1="1106" x2="1353" y2="1140.5" stroke="#111" stroke-width="1"/>
<line x1="1357.5" y1="1106" x2="1357.5" y2="1140.5" stroke="#111" stroke-width="1"/>
<line x1="1339.5" y1="1112" x2="1344" y2="1112" stroke="#111" stroke-width="1"/>
<line x1="1357.5" y1="1112" x2="1361.7" y2="1112" stroke="#111" stroke-width="1"/>
<line x1="1339.5" y1="1118.5" x2="1344" y2="1118.5" stroke="#111" stroke-width="1"/>
<line x1="1357.5" y1="1118.5" x2="1361.7" y2="1118.5" stroke="#111" stroke-width="1"/>
<line x1="1339.5" y1="1126" x2="1344" y2="1126" stroke="#111" stroke-width="1"/>
<line x1="1357.5" y1="1126" x2="1361.7" y2="1126" stroke="#111" stroke-width="1"/>
<line x1="1339.5" y1="1133" x2="1344" y2="1133" stroke="#111" stroke-width="1"/>
<line x1="1357.5" y1="1133" x2="1361.7" y2="1133" stroke="#111" stroke-width="1"/>
<rect x="1344" y="1140.5" width="12.7" height="60.5" fill="#fff" stroke="#111" stroke-width="1"/>
<rect x="1356.7" y="1160" width="4" height="41" fill="#fff" stroke="#111" stroke-width="1"/>
<rect x="1356.7" y="1169" width="96" height="19.8" fill="#fff" stroke="#111" stroke-width="1"/>
<rect x="1442" y="1167" width="11" height="24" fill="#fff" stroke="#111" stroke-width="1"/>
<rect x="1452.8" y="1139" width="27.2" height="78" fill="#fff" stroke="#111" stroke-width="1"/>
<rect x="1455" y="1142" width="22.8" height="72" fill="none" stroke="#111" stroke-width="1"/>
<line x1="1455" y1="1153" x2="1477.8" y2="1153" stroke="#111" stroke-width="1"/>
<line x1="1455" y1="1166" x2="1477.8" y2="1166" stroke="#111" stroke-width="1"/>
<line x1="1455" y1="1190" x2="1477.8" y2="1190" stroke="#111" stroke-width="1"/>
<line x1="1455" y1="1203" x2="1477.8" y2="1203" stroke="#111" stroke-width="1"/>
<rect x="1464.5" y="1146" width="3.4" height="4" fill="#fff" stroke="#111" stroke-width="1"/>
<rect x="1464.5" y="1207" width="3.4" height="4" fill="#fff" stroke="#111" stroke-width="1"/>
<rect x="1495" y="1130.6" width="68.7" height="96" fill="#fff" stroke="#111" stroke-width="1"/>
<line x1="1499.5" y1="1130.6" x2="1499.5" y2="1226.6" stroke="#111" stroke-width="1"/>
<line x1="1503.5" y1="1130.6" x2="1503.5" y2="1226.6" stroke="#111" stroke-width="1"/>
<line x1="1548.5" y1="1130.6" x2="1548.5" y2="1226.6" stroke="#111" stroke-width="1"/>
<line x1="1554.5" y1="1130.6" x2="1554.5" y2="1226.6" stroke="#111" stroke-width="1"/>
<line x1="1559" y1="1130.6" x2="1559" y2="1226.6" stroke="#111" stroke-width="1"/>
<line x1="1495" y1="1136" x2="1563.7" y2="1136" stroke="#111" stroke-width="1"/>
<line x1="1495" y1="1141" x2="1563.7" y2="1141" stroke="#111" stroke-width="1"/>
<line x1="1495" y1="1216" x2="1563.7" y2="1216" stroke="#111" stroke-width="1"/>
<line x1="1495" y1="1221.5" x2="1563.7" y2="1221.5" stroke="#111" stroke-width="1"/>
<path d="M1487.3 1160.5 L1506 1160.5 L1506 1158 L1519 1158 L1519 1166 L1523 1166 L1523 1185 L1531 1185 L1531 1195 L1519 1195 L1519 1198 L1487.3 1198 Z" fill="#fff" stroke="#111" stroke-width="1" />
<path d="M1581.5 1137 L1690 1137 C1698 1139 1701.5 1148 1701.5 1158 L1701.5 1200 C1701.5 1210 1698 1219 1690 1220.8 L1581.5 1220.8 Z" fill="#fff" stroke="#111" stroke-width="1" />
<path d="M1581.5 1137 C1572 1141 1566 1148 1563.7 1156 L1563.7 1202 C1566 1210 1572 1217 1581.5 1220.8" fill="#fff" stroke="#111" stroke-width="1" />
<line x1="1581.5" y1="1137" x2="1581.5" y2="1220.8" stroke="#111" stroke-width="1"/>
<path d="M1684 1138 C1692 1150 1692 1208 1684 1220" fill="none" stroke="#111" stroke-width="1" />
<line x1="1466.2" y1="1189" x2="1466.2" y2="1360" stroke="#333" stroke-width="1"/>
<rect x="1334.1" y="510" width="3.2" height="482" fill="#9692f3"/>
<rect x="1340.5" y="510" width="3.2" height="482" fill="#9692f3"/>
<rect x="1406.3" y="510" width="3.2" height="482" fill="#9692f3"/>
<rect x="1412.7" y="510" width="3.2" height="482" fill="#9692f3"/>
<rect x="1331.7" y="510" width="1.6" height="190" fill="#9692f3"/>
<rect x="1416.7" y="510" width="1.6" height="190" fill="#9692f3"/>
<rect x="1314.3" y="510" width="3.4" height="134" fill="#9692f3"/>
<rect x="1326.8" y="510" width="3.4" height="134" fill="#9692f3"/>
<rect x="1419.8" y="510" width="3.4" height="134" fill="#9692f3"/>
<rect x="1432.3" y="510" width="3.4" height="134" fill="#9692f3"/>
<rect x="1365.2" y="431" width="3.6" height="605" fill="#9692f3"/>
<rect x="1381.2" y="431" width="3.6" height="605" fill="#9692f3"/>
<path d="M1368 403.2 L1311.8 403.2 L1311.8 411.2 L1285.4 411.2 L1285.4 499 L1311.8 499 L1311.8 508.6 L1366 508.6" fill="none" stroke="#9692f3" stroke-width="3.6" />
<path d="M1382 403.2 L1438 403.2 L1438 411.2 L1464.4 411.2 L1464.4 499 L1438 499 L1438 508.6 L1384 508.6" fill="none" stroke="#9692f3" stroke-width="3.6" />
<circle cx="1327.7" cy="412.6" r="8" fill="#9692f3"/>
<circle cx="1422.2" cy="412.6" r="8" fill="#9692f3"/>
<circle cx="1327.7" cy="496.7" r="8" fill="#9692f3"/>
<circle cx="1422.2" cy="496.7" r="8" fill="#9692f3"/>
<circle cx="1300.4" cy="424.1" r="6" fill="#fff" stroke="#9692f3" stroke-width="5.2"/>
<circle cx="1449.1" cy="424.1" r="6" fill="#fff" stroke="#9692f3" stroke-width="5.2"/>
<circle cx="1300.4" cy="485.5" r="6" fill="#fff" stroke="#9692f3" stroke-width="5.2"/>
<circle cx="1449.1" cy="485.5" r="6" fill="#fff" stroke="#9692f3" stroke-width="5.2"/>
<circle cx="1359.7" cy="436.1" r="6.6" fill="#9692f3"/>
<circle cx="1390.1" cy="436.1" r="6.6" fill="#9692f3"/>
<rect x="1355" y="433" width="40" height="6" fill="#9692f3" rx="3"/>
<rect x="1361.3" y="378" width="5.6" height="40" fill="#9692f3"/>
<rect x="1382" y="378" width="5.8" height="40" fill="#9692f3"/>
<path d="M1363.5 410 L1363.5 414 Q1363.5 423 1375 423 Q1386 423 1386 414 L1386 410" fill="none" stroke="#9692f3" stroke-width="4.4" />
<circle cx="1375" cy="418.6" r="3.2" fill="#fff" stroke="#9692f3" stroke-width="2.4"/>
<rect x="1371" y="425" width="8" height="6" fill="#fff" stroke="#9692f3" stroke-width="2"/>
<line x1="1364.8" y1="380" x2="1364.8" y2="412" stroke="#fff" stroke-width="1"/>
<rect x="1291.6" y="373.2" width="77.4" height="3.6" fill="#9692f3"/>
<rect x="1381" y="373.2" width="77.7" height="3.6" fill="#9692f3"/>
<rect x="1291.7" y="373.3" width="3.6" height="37.7" fill="#9692f3"/>
<rect x="1455" y="373.3" width="3.6" height="37.7" fill="#9692f3"/>
<rect x="1367.3" y="375" width="3.4" height="28" fill="#9692f3"/>
<rect x="1379.3" y="375" width="3.4" height="28" fill="#9692f3"/>
<path d="M1295 405 L1314 380" fill="none" stroke="#9692f3" stroke-width="4" />
<path d="M1455 405 L1436 380" fill="none" stroke="#9692f3" stroke-width="4" />
<rect x="1311.5" y="373.3" width="4" height="29.7" fill="#9692f3"/>
<rect x="1434.5" y="373.3" width="4" height="29.7" fill="#9692f3"/>
<rect x="1333" y="376" width="3" height="26" fill="#9692f3"/>
<rect x="1339" y="376" width="3" height="26" fill="#9692f3"/>
<rect x="1408" y="376" width="3" height="26" fill="#9692f3"/>
<rect x="1414" y="376" width="3" height="26" fill="#9692f3"/>
<rect x="1314" y="378" width="20" height="23" fill="#9692f3"/>
<rect x="1416" y="378" width="20" height="23" fill="#9692f3"/>
<rect x="1319" y="380.5" width="4.4" height="5.4" fill="#fff"/>
<rect x="1326" y="380.5" width="4.4" height="5.4" fill="#fff"/>
<rect x="1316" y="390.5" width="4.4" height="5.4" fill="#fff"/>
<rect x="1323" y="390.5" width="4.4" height="5.4" fill="#fff"/>
<rect x="1424" y="380.5" width="4.4" height="5.4" fill="#fff"/>
<rect x="1431" y="380.5" width="4.4" height="5.4" fill="#fff"/>
<rect x="1421" y="390.5" width="4.4" height="5.4" fill="#fff"/>
<rect x="1428" y="390.5" width="4.4" height="5.4" fill="#fff"/>
<rect x="1314.5" y="360.6" width="120.2" height="11.8" fill="#fff" stroke="#9692f3" stroke-width="4.4" rx="6"/>
<circle cx="1320" cy="359" r="5" fill="#9692f3"/>
<circle cx="1429.5" cy="359" r="5" fill="#9692f3"/>
<rect x="1339.5" y="362" width="2.6" height="10" fill="#9692f3"/>
<rect x="1407.4" y="362" width="2.6" height="10" fill="#9692f3"/>
<rect x="1331.7" y="282" width="85.7" height="77" fill="#9692f3"/>
<rect x="1338.9" y="290.8" width="70.5" height="68.1" fill="#fff"/>
<rect x="1339" y="285.5" width="9" height="4" fill="#fff"/>
<rect x="1352" y="285.5" width="46" height="4" fill="#fff"/>
<rect x="1402" y="285.5" width="9" height="4" fill="#fff"/>
<rect x="1331" y="296" width="2.2" height="5" fill="#fff"/>
<rect x="1416" y="296" width="2.2" height="5" fill="#fff"/>
<rect x="1331" y="311" width="2.2" height="5" fill="#fff"/>
<rect x="1416" y="311" width="2.2" height="5" fill="#fff"/>
<rect x="1331" y="326" width="2.2" height="5" fill="#fff"/>
<rect x="1416" y="326" width="2.2" height="5" fill="#fff"/>
<rect x="1331" y="341" width="2.2" height="5" fill="#fff"/>
<rect x="1416" y="341" width="2.2" height="5" fill="#fff"/>
<rect x="1348.6" y="312" width="53.2" height="47" fill="#fff" stroke="#9692f3" stroke-width="4"/>
<rect x="1346.6" y="312" width="14.7" height="47" fill="#9692f3"/>
<rect x="1387.7" y="312" width="16.1" height="47" fill="#9692f3"/>
<rect x="1350.5" y="315" width="4.8" height="5.5" fill="#fff"/>
<rect x="1395" y="315" width="4.8" height="5.5" fill="#fff"/>
<rect x="1350.5" y="332" width="4.8" height="11.5" fill="#fff"/>
<rect x="1395" y="332" width="4.8" height="11.5" fill="#fff"/>
<rect x="1350.5" y="353" width="4.8" height="5.5" fill="#fff"/>
<rect x="1395" y="353" width="4.8" height="5.5" fill="#fff"/>
<rect x="1354" y="345" width="2.4" height="6" fill="#fff"/>
<rect x="1395.5" y="345" width="2.4" height="6" fill="#fff"/>
<rect x="1304.4" y="641.4" width="32.9" height="6.6" fill="#9692f3" rx="2"/>
<rect x="1298.8" y="647.8" width="38.5" height="18.4" fill="#9692f3" rx="2"/>
<rect x="1302" y="651.8" width="32" height="3.2" fill="#fff"/>
<rect x="1302" y="659" width="32" height="4" fill="#fff"/>
<rect x="1304.4" y="666.2" width="32.9" height="12.8" fill="#9692f3" rx="4"/>
<rect x="1318" y="667.5" width="8" height="7.5" fill="#fff"/>
<rect x="1313" y="680.7" width="20.2" height="49.5" fill="#fff" stroke="#9692f3" stroke-width="3.4" rx="2"/>
<rect x="1324" y="679" width="2.6" height="52" fill="#9692f3"/>
<circle cx="1330" cy="686" r="2.6" fill="#9692f3"/>
<circle cx="1330" cy="724.8" r="2.6" fill="#9692f3"/>
<rect x="1413.1" y="641.4" width="32.9" height="6.6" fill="#9692f3" rx="2"/>
<rect x="1413.1" y="647.8" width="38.5" height="18.4" fill="#9692f3" rx="2"/>
<rect x="1416.4" y="651.8" width="32" height="3.2" fill="#fff"/>
<rect x="1416.4" y="659" width="32" height="4" fill="#fff"/>
<rect x="1413.1" y="666.2" width="32.9" height="12.8" fill="#9692f3" rx="4"/>
<rect x="1424.4" y="667.5" width="8" height="7.5" fill="#fff"/>
<rect x="1417.2" y="680.7" width="20.2" height="49.5" fill="#fff" stroke="#9692f3" stroke-width="3.4" rx="2"/>
<rect x="1423.8" y="679" width="2.6" height="52" fill="#9692f3"/>
<circle cx="1420.4" cy="686" r="2.6" fill="#9692f3"/>
<circle cx="1420.4" cy="724.8" r="2.6" fill="#9692f3"/>
<rect x="1343.6" y="827.3" width="22.2" height="3" fill="#9692f3"/>
<rect x="1383" y="827.3" width="23.5" height="3" fill="#9692f3"/>
<rect x="1350" y="828.8" width="5" height="3.5" fill="#9692f3"/>
<rect x="1394" y="828.8" width="5" height="3.5" fill="#9692f3"/>
<circle cx="1344.5" cy="853.8" r="2.6" fill="#9692f3"/>
<circle cx="1405.5" cy="853.8" r="2.6" fill="#9692f3"/>
<circle cx="1344.5" cy="909.5" r="2.6" fill="#9692f3"/>
<circle cx="1405.5" cy="909.5" r="2.6" fill="#9692f3"/>
<path d="M1212.3 737.6 L1212.3 699 A7.5 7.5 0 0 1 1219.8 692.6 L1277.5 692.6 A7.5 7.5 0 0 1 1285 699 L1285 737.6" fill="none" stroke="#9692f3" stroke-width="3.6" />
<rect x="1210.5" y="701.8" width="76.4" height="3.6" fill="#9692f3"/>
<rect x="1210.5" y="736.4" width="76.4" height="3.6" fill="#9692f3"/>
<rect x="1214.3" y="738" width="68.6" height="74.6" fill="none" stroke="#9692f3" stroke-width="3.6" rx="3"/>
<rect x="1223.7" y="814" width="3.6" height="14" fill="#9692f3"/>
<rect x="1267.7" y="814" width="3.6" height="14" fill="#9692f3"/>
<rect x="1216.2" y="827.6" width="65.1" height="6.4" fill="#9692f3" rx="2"/>
<rect x="1220.4" y="833" width="3.6" height="93" fill="#9692f3"/>
<rect x="1274.2" y="833" width="3.6" height="93" fill="#9692f3"/>
<rect x="1220.4" y="845.5" width="57.4" height="3.6" fill="#9692f3"/>
<rect x="1220.4" y="867.7" width="57.4" height="3.6" fill="#9692f3"/>
<rect x="1220.4" y="900.6" width="57.4" height="3.6" fill="#9692f3"/>
<rect x="1220.4" y="917.3" width="57.4" height="3.6" fill="#9692f3"/>
<circle cx="1224.6" cy="862" r="3.6" fill="#9692f3"/>
<circle cx="1273.9" cy="862" r="3.6" fill="#9692f3"/>
<circle cx="1224.6" cy="912.6" r="3.6" fill="#9692f3"/>
<circle cx="1273.9" cy="912.6" r="3.6" fill="#9692f3"/>
<rect x="1207.3" y="926" width="83.8" height="10" fill="#9692f3" rx="2"/>
<circle cx="1199.4" cy="931" r="5" fill="#9692f3"/>
<rect x="1278.3" y="867.3" width="57.2" height="3.4" fill="#9692f3"/>
<path d="M1291.1 885.6 L1335.5 873.8" fill="none" stroke="#9692f3" stroke-width="4" />
<rect x="1283" y="890.2" width="52.5" height="4.5" fill="#9692f3"/>
<rect x="1283" y="907.8" width="52.5" height="4.5" fill="#9692f3"/>
<rect x="1279.5" y="866" width="5" height="47" fill="#9692f3"/>
<circle cx="1287.2" cy="878.7" r="4.6" fill="#fff" stroke="#9692f3" stroke-width="3.2"/>
<rect x="1309.6" y="913.8" width="26" height="22" fill="none" stroke="#9692f3" stroke-width="3.4"/>
<rect x="257" y="951" width="925.7" height="3.8" fill="#9692f3"/>
<rect x="257" y="951" width="3.8" height="45.5" fill="#9692f3"/>
<rect x="257" y="989" width="1338" height="7.6" fill="#9692f3"/>
<line x1="260" y1="987.3" x2="1183" y2="987.3" stroke="#9692f3" stroke-width="0.9"/>
<rect x="273.3" y="1063.8" width="1296" height="13.8" fill="#9692f3"/>
<rect x="1560" y="1074.4" width="73.6" height="3.4" fill="#9692f3"/>
<rect x="273.3" y="1063.8" width="4.2" height="29.6" fill="#9692f3"/>
<rect x="273.3" y="1088" width="1360.3" height="5.4" fill="#9692f3"/>
<rect x="1629.4" y="1074.4" width="4.2" height="19" fill="#9692f3"/>
<rect x="273.3" y="1088" width="24" height="6.6" fill="#9692f3"/>
<rect x="1610" y="1088" width="23.6" height="6.6" fill="#9692f3"/>
<path d="M287 1074 L290.5 1069.6 L301 1068.4 L305.5 1071 L305.5 1074 L302.5 1074 L300 1072 L294 1072 L291.5 1074 Z" fill="#fff" stroke="none" stroke-width="0" />
<path d="M313 1074 L316.5 1069.6 L327 1068.4 L331.5 1071 L331.5 1074 L328.5 1074 L326 1072 L320 1072 L317.5 1074 Z" fill="#fff" stroke="none" stroke-width="0" />
<path d="M339 1074 L342.5 1069.6 L353 1068.4 L357.5 1071 L357.5 1074 L354.5 1074 L352 1072 L346 1072 L343.5 1074 Z" fill="#fff" stroke="none" stroke-width="0" />
<path d="M365 1074 L368.5 1069.6 L379 1068.4 L383.5 1071 L383.5 1074 L380.5 1074 L378 1072 L372 1072 L369.5 1074 Z" fill="#fff" stroke="none" stroke-width="0" />
<path d="M391 1074 L394.5 1069.6 L405 1068.4 L409.5 1071 L409.5 1074 L406.5 1074 L404 1072 L398 1072 L395.5 1074 Z" fill="#fff" stroke="none" stroke-width="0" />
<path d="M417 1074 L420.5 1069.6 L431 1068.4 L435.5 1071 L435.5 1074 L432.5 1074 L430 1072 L424 1072 L421.5 1074 Z" fill="#fff" stroke="none" stroke-width="0" />
<path d="M443 1074 L446.5 1069.6 L457 1068.4 L461.5 1071 L461.5 1074 L458.5 1074 L456 1072 L450 1072 L447.5 1074 Z" fill="#fff" stroke="none" stroke-width="0" />
<path d="M469 1074 L472.5 1069.6 L483 1068.4 L487.5 1071 L487.5 1074 L484.5 1074 L482 1072 L476 1072 L473.5 1074 Z" fill="#fff" stroke="none" stroke-width="0" />
<path d="M495 1074 L498.5 1069.6 L509 1068.4 L513.5 1071 L513.5 1074 L510.5 1074 L508 1072 L502 1072 L499.5 1074 Z" fill="#fff" stroke="none" stroke-width="0" />
<path d="M521 1074 L524.5 1069.6 L535 1068.4 L539.5 1071 L539.5 1074 L536.5 1074 L534 1072 L528 1072 L525.5 1074 Z" fill="#fff" stroke="none" stroke-width="0" />
<path d="M547 1074 L550.5 1069.6 L561 1068.4 L565.5 1071 L565.5 1074 L562.5 1074 L560 1072 L554 1072 L551.5 1074 Z" fill="#fff" stroke="none" stroke-width="0" />
<path d="M573 1074 L576.5 1069.6 L587 1068.4 L591.5 1071 L591.5 1074 L588.5 1074 L586 1072 L580 1072 L577.5 1074 Z" fill="#fff" stroke="none" stroke-width="0" />
<path d="M599 1074 L602.5 1069.6 L613 1068.4 L617.5 1071 L617.5 1074 L614.5 1074 L612 1072 L606 1072 L603.5 1074 Z" fill="#fff" stroke="none" stroke-width="0" />
<path d="M625 1074 L628.5 1069.6 L639 1068.4 L643.5 1071 L643.5 1074 L640.5 1074 L638 1072 L632 1072 L629.5 1074 Z" fill="#fff" stroke="none" stroke-width="0" />
<path d="M651 1074 L654.5 1069.6 L665 1068.4 L669.5 1071 L669.5 1074 L666.5 1074 L664 1072 L658 1072 L655.5 1074 Z" fill="#fff" stroke="none" stroke-width="0" />
<path d="M677 1074 L680.5 1069.6 L691 1068.4 L695.5 1071 L695.5 1074 L692.5 1074 L690 1072 L684 1072 L681.5 1074 Z" fill="#fff" stroke="none" stroke-width="0" />
<path d="M703 1074 L706.5 1069.6 L717 1068.4 L721.5 1071 L721.5 1074 L718.5 1074 L716 1072 L710 1072 L707.5 1074 Z" fill="#fff" stroke="none" stroke-width="0" />
<path d="M729 1074 L732.5 1069.6 L743 1068.4 L747.5 1071 L747.5 1074 L744.5 1074 L742 1072 L736 1072 L733.5 1074 Z" fill="#fff" stroke="none" stroke-width="0" />
<path d="M755 1074 L758.5 1069.6 L769 1068.4 L773.5 1071 L773.5 1074 L770.5 1074 L768 1072 L762 1072 L759.5 1074 Z" fill="#fff" stroke="none" stroke-width="0" />
<path d="M781 1074 L784.5 1069.6 L795 1068.4 L799.5 1071 L799.5 1074 L796.5 1074 L794 1072 L788 1072 L785.5 1074 Z" fill="#fff" stroke="none" stroke-width="0" />
<path d="M807 1074 L810.5 1069.6 L821 1068.4 L825.5 1071 L825.5 1074 L822.5 1074 L820 1072 L814 1072 L811.5 1074 Z" fill="#fff" stroke="none" stroke-width="0" />
<path d="M833 1074 L836.5 1069.6 L847 1068.4 L851.5 1071 L851.5 1074 L848.5 1074 L846 1072 L840 1072 L837.5 1074 Z" fill="#fff" stroke="none" stroke-width="0" />
<path d="M859 1074 L862.5 1069.6 L873 1068.4 L877.5 1071 L877.5 1074 L874.5 1074 L872 1072 L866 1072 L863.5 1074 Z" fill="#fff" stroke="none" stroke-width="0" />
<path d="M885 1074 L888.5 1069.6 L899 1068.4 L903.5 1071 L903.5 1074 L900.5 1074 L898 1072 L892 1072 L889.5 1074 Z" fill="#fff" stroke="none" stroke-width="0" />
<path d="M911 1074 L914.5 1069.6 L925 1068.4 L929.5 1071 L929.5 1074 L926.5 1074 L924 1072 L918 1072 L915.5 1074 Z" fill="#fff" stroke="none" stroke-width="0" />
<path d="M937 1074 L940.5 1069.6 L951 1068.4 L955.5 1071 L955.5 1074 L952.5 1074 L950 1072 L944 1072 L941.5 1074 Z" fill="#fff" stroke="none" stroke-width="0" />
<path d="M963 1074 L966.5 1069.6 L977 1068.4 L981.5 1071 L981.5 1074 L978.5 1074 L976 1072 L970 1072 L967.5 1074 Z" fill="#fff" stroke="none" stroke-width="0" />
<path d="M989 1074 L992.5 1069.6 L1003 1068.4 L1007.5 1071 L1007.5 1074 L1004.5 1074 L1002 1072 L996 1072 L993.5 1074 Z" fill="#fff" stroke="none" stroke-width="0" />
<path d="M1015 1074 L1018.5 1069.6 L1029 1068.4 L1033.5 1071 L1033.5 1074 L1030.5 1074 L1028 1072 L1022 1072 L1019.5 1074 Z" fill="#fff" stroke="none" stroke-width="0" />
<path d="M1041 1074 L1044.5 1069.6 L1055 1068.4 L1059.5 1071 L1059.5 1074 L1056.5 1074 L1054 1072 L1048 1072 L1045.5 1074 Z" fill="#fff" stroke="none" stroke-width="0" />
<path d="M1067 1074 L1070.5 1069.6 L1081 1068.4 L1085.5 1071 L1085.5 1074 L1082.5 1074 L1080 1072 L1074 1072 L1071.5 1074 Z" fill="#fff" stroke="none" stroke-width="0" />
<path d="M1093 1074 L1096.5 1069.6 L1107 1068.4 L1111.5 1071 L1111.5 1074 L1108.5 1074 L1106 1072 L1100 1072 L1097.5 1074 Z" fill="#fff" stroke="none" stroke-width="0" />
<path d="M1119 1074 L1122.5 1069.6 L1133 1068.4 L1137.5 1071 L1137.5 1074 L1134.5 1074 L1132 1072 L1126 1072 L1123.5 1074 Z" fill="#fff" stroke="none" stroke-width="0" />
<path d="M1145 1074 L1148.5 1069.6 L1159 1068.4 L1163.5 1071 L1163.5 1074 L1160.5 1074 L1158 1072 L1152 1072 L1149.5 1074 Z" fill="#fff" stroke="none" stroke-width="0" />
<path d="M1171 1074 L1174.5 1069.6 L1185 1068.4 L1189.5 1071 L1189.5 1074 L1186.5 1074 L1184 1072 L1178 1072 L1175.5 1074 Z" fill="#fff" stroke="none" stroke-width="0" />
<path d="M1197 1074 L1200.5 1069.6 L1211 1068.4 L1215.5 1071 L1215.5 1074 L1212.5 1074 L1210 1072 L1204 1072 L1201.5 1074 Z" fill="#fff" stroke="none" stroke-width="0" />
<path d="M1223 1074 L1226.5 1069.6 L1237 1068.4 L1241.5 1071 L1241.5 1074 L1238.5 1074 L1236 1072 L1230 1072 L1227.5 1074 Z" fill="#fff" stroke="none" stroke-width="0" />
<path d="M1249 1074 L1252.5 1069.6 L1263 1068.4 L1267.5 1071 L1267.5 1074 L1264.5 1074 L1262 1072 L1256 1072 L1253.5 1074 Z" fill="#fff" stroke="none" stroke-width="0" />
<path d="M1275 1074 L1278.5 1069.6 L1289 1068.4 L1293.5 1071 L1293.5 1074 L1290.5 1074 L1288 1072 L1282 1072 L1279.5 1074 Z" fill="#fff" stroke="none" stroke-width="0" />
<path d="M1301 1074 L1304.5 1069.6 L1315 1068.4 L1319.5 1071 L1319.5 1074 L1316.5 1074 L1314 1072 L1308 1072 L1305.5 1074 Z" fill="#fff" stroke="none" stroke-width="0" />
<path d="M1327 1074 L1330.5 1069.6 L1341 1068.4 L1345.5 1071 L1345.5 1074 L1342.5 1074 L1340 1072 L1334 1072 L1331.5 1074 Z" fill="#fff" stroke="none" stroke-width="0" />
<path d="M1353 1074 L1356.5 1069.6 L1367 1068.4 L1371.5 1071 L1371.5 1074 L1368.5 1074 L1366 1072 L1360 1072 L1357.5 1074 Z" fill="#fff" stroke="none" stroke-width="0" />
<path d="M1379 1074 L1382.5 1069.6 L1393 1068.4 L1397.5 1071 L1397.5 1074 L1394.5 1074 L1392 1072 L1386 1072 L1383.5 1074 Z" fill="#fff" stroke="none" stroke-width="0" />
<path d="M1405 1074 L1408.5 1069.6 L1419 1068.4 L1423.5 1071 L1423.5 1074 L1420.5 1074 L1418 1072 L1412 1072 L1409.5 1074 Z" fill="#fff" stroke="none" stroke-width="0" />
<path d="M1431 1074 L1434.5 1069.6 L1445 1068.4 L1449.5 1071 L1449.5 1074 L1446.5 1074 L1444 1072 L1438 1072 L1435.5 1074 Z" fill="#fff" stroke="none" stroke-width="0" />
<path d="M1457 1074 L1460.5 1069.6 L1471 1068.4 L1475.5 1071 L1475.5 1074 L1472.5 1074 L1470 1072 L1464 1072 L1461.5 1074 Z" fill="#fff" stroke="none" stroke-width="0" />
<path d="M1483 1074 L1486.5 1069.6 L1497 1068.4 L1501.5 1071 L1501.5 1074 L1498.5 1074 L1496 1072 L1490 1072 L1487.5 1074 Z" fill="#fff" stroke="none" stroke-width="0" />
<path d="M1509 1074 L1512.5 1069.6 L1523 1068.4 L1527.5 1071 L1527.5 1074 L1524.5 1074 L1522 1072 L1516 1072 L1513.5 1074 Z" fill="#fff" stroke="none" stroke-width="0" />
<path d="M1535 1074 L1538.5 1069.6 L1549 1068.4 L1553.5 1071 L1553.5 1074 L1550.5 1074 L1548 1072 L1542 1072 L1539.5 1074 Z" fill="#fff" stroke="none" stroke-width="0" />
<rect x="279" y="1068.6" width="10" height="1.6" fill="#fff"/>
<rect x="474.8" y="1093" width="18.2" height="16.2" fill="#fff" stroke="#9692f3" stroke-width="4"/>
<rect x="703.4" y="1093" width="18.2" height="16.2" fill="#fff" stroke="#9692f3" stroke-width="4"/>
<rect x="932.6" y="1093" width="18.2" height="16.2" fill="#fff" stroke="#9692f3" stroke-width="4"/>
<rect x="1161.8" y="1093" width="18.2" height="16.2" fill="#fff" stroke="#9692f3" stroke-width="4"/>
<rect x="1391" y="1093" width="18.2" height="16.2" fill="#fff" stroke="#9692f3" stroke-width="4"/>
<rect x="472.4" y="1019" width="6" height="44.8" fill="#9692f3"/>
<rect x="491.3" y="996.5" width="3.6" height="67.3" fill="#9692f3"/>
<path d="M457.4 996.5 L484.1 996.5 L483 1003 L466.8 1003 Z" fill="#9692f3" stroke="none" stroke-width="0" />
<rect x="466.8" y="1002.5" width="16.2" height="9.5" fill="#9692f3"/>
<rect x="461.5" y="1011.4" width="22.6" height="8.6" fill="#9692f3" rx="2"/>
<rect x="463.8" y="1006" width="3" height="2" fill="#fff"/>
<rect x="481" y="1005.5" width="3" height="2.4" fill="#fff"/>
<rect x="481.4" y="1013.6" width="3" height="1.8" fill="#fff"/>
<rect x="701.2" y="1019" width="6" height="44.8" fill="#9692f3"/>
<rect x="720.1" y="996.5" width="3.6" height="67.3" fill="#9692f3"/>
<path d="M686.2 996.5 L712.9 996.5 L711.8 1003 L695.6 1003 Z" fill="#9692f3" stroke="none" stroke-width="0" />
<rect x="695.6" y="1002.5" width="16.2" height="9.5" fill="#9692f3"/>
<rect x="690.3" y="1011.4" width="22.6" height="8.6" fill="#9692f3" rx="2"/>
<rect x="692.6" y="1006" width="3" height="2" fill="#fff"/>
<rect x="709.8" y="1005.5" width="3" height="2.4" fill="#fff"/>
<rect x="710.2" y="1013.6" width="3" height="1.8" fill="#fff"/>
<rect x="930.4" y="1019" width="6" height="44.8" fill="#9692f3"/>
<rect x="949.3" y="996.5" width="3.6" height="67.3" fill="#9692f3"/>
<path d="M915.4 996.5 L942.1 996.5 L941 1003 L924.8 1003 Z" fill="#9692f3" stroke="none" stroke-width="0" />
<rect x="924.8" y="1002.5" width="16.2" height="9.5" fill="#9692f3"/>
<rect x="919.5" y="1011.4" width="22.6" height="8.6" fill="#9692f3" rx="2"/>
<rect x="921.8" y="1006" width="3" height="2" fill="#fff"/>
<rect x="939" y="1005.5" width="3" height="2.4" fill="#fff"/>
<rect x="939.4" y="1013.6" width="3" height="1.8" fill="#fff"/>
<rect x="1159.6" y="1019" width="6" height="44.8" fill="#9692f3"/>
<rect x="1178.5" y="996.5" width="3.6" height="67.3" fill="#9692f3"/>
<path d="M1144.6 996.5 L1171.3 996.5 L1170.2 1003 L1154 1003 Z" fill="#9692f3" stroke="none" stroke-width="0" />
<rect x="1154" y="1002.5" width="16.2" height="9.5" fill="#9692f3"/>
<rect x="1148.7" y="1011.4" width="22.6" height="8.6" fill="#9692f3" rx="2"/>
<rect x="1151" y="1006" width="3" height="2" fill="#fff"/>
<rect x="1168.2" y="1005.5" width="3" height="2.4" fill="#fff"/>
<rect x="1168.6" y="1013.6" width="3" height="1.8" fill="#fff"/>
<rect x="1389" y="1000" width="6" height="63.8" fill="#9692f3"/>
<rect x="1182.7" y="935.9" width="157.7" height="4.2" fill="#9692f3"/>
<rect x="1182.7" y="935.9" width="3.6" height="55" fill="#9692f3"/>
<rect x="1336.5" y="935.9" width="4" height="55" fill="#9692f3"/>
<circle cx="1193.5" cy="978.6" r="5.2" fill="#fff" stroke="#9692f3" stroke-width="3"/>
<circle cx="1222.6" cy="976.1" r="6.1" fill="#fff" stroke="#9692f3" stroke-width="7.4"/>
<rect x="1340.4" y="931.2" width="73.9" height="4.6" fill="#9692f3"/>
<rect x="1465" y="938.6" width="101" height="53" fill="none" stroke="#9692f3" stroke-width="4"/>
<rect x="1467" y="907" width="97.6" height="31.6" fill="#9692f3"/>
<rect x="1473" y="915" width="10.5" height="14" fill="#fff"/>
<rect x="1486.8" y="892.8" width="22.6" height="15" fill="#9692f3"/>
<rect x="1524.2" y="892.8" width="22.7" height="15" fill="#9692f3"/>
<rect x="1491" y="896" width="14" height="12" fill="#fff"/>
<rect x="1528.3" y="896" width="14" height="12" fill="#fff"/>
<circle cx="1527.2" cy="976" r="6.1" fill="#fff" stroke="#9692f3" stroke-width="7.4"/>
<rect x="1480.2" y="778.6" width="72.2" height="110.4" fill="#fff" stroke="#9692f3" stroke-width="7.6"/>
<circle cx="1473.3" cy="788.7" r="3.4" fill="#9692f3"/>
<path d="M1367 936 L1367 1033.5 A48.6 44.3 0 0 0 1464.2 1033.5 L1464.2 919 A8 8 0 0 0 1448.2 919 L1448.2 1033.5 A32.6 29.3 0 0 1 1383 1033.5 L1383 936" fill="#fff" stroke="#9692f3" stroke-width="3.6" />
<rect x="1447.5" y="938.9" width="18" height="6" fill="#9692f3"/>
<rect x="1445" y="952" width="23" height="13" fill="#fff" stroke="#9692f3" stroke-width="3.4" rx="3"/>
<rect x="1452" y="955.5" width="8" height="7" fill="none" stroke="#9692f3" stroke-width="2.4"/>
<rect x="1449" y="966" width="14.5" height="5" fill="#9692f3"/>
<rect x="1386" y="997" width="9" height="30" fill="#9692f3"/>
<rect x="1392" y="1003" width="7" height="5" fill="#9692f3" rx="2"/>
<rect x="1392" y="1011" width="7" height="5" fill="#9692f3" rx="2"/>
<rect x="1392" y="1019" width="6" height="4" fill="#9692f3" rx="2"/>
<path d="M1386 1027 L1386 1050" fill="none" stroke="#9692f3" stroke-width="2" />
<path d="M1492 911.2 L1533 908.4 A87.6 87.6 0 0 1 1574.1 1073.3 L1564.2 1054.6 A66.4 66.4 0 0 0 1533 929.6 L1492 932.4 Z" fill="#fff" stroke="#9692f3" stroke-width="3.6" />
<circle cx="1504.1" cy="921.8" r="10.4" fill="#fff" stroke="#9692f3" stroke-width="3.8"/>
<circle cx="1504.1" cy="921.8" r="4.5" fill="#fff" stroke="#9692f3" stroke-width="3.2"/>
<circle cx="1530.1" cy="921.8" r="10.4" fill="#fff" stroke="#9692f3" stroke-width="3.8"/>
<circle cx="1530.1" cy="921.8" r="4.5" fill="#fff" stroke="#9692f3" stroke-width="3.2"/>
<circle cx="1555.8" cy="921.8" r="10.4" fill="#fff" stroke="#9692f3" stroke-width="3.8"/>
<circle cx="1555.8" cy="921.8" r="4.5" fill="#fff" stroke="#9692f3" stroke-width="3.2"/>
<circle cx="1579.8" cy="930.3" r="10.4" fill="#fff" stroke="#9692f3" stroke-width="3.8"/>
<circle cx="1579.8" cy="930.3" r="4.5" fill="#fff" stroke="#9692f3" stroke-width="3.2"/>
<circle cx="1598.7" cy="948.8" r="10.4" fill="#fff" stroke="#9692f3" stroke-width="3.8"/>
<circle cx="1598.7" cy="948.8" r="4.5" fill="#fff" stroke="#9692f3" stroke-width="3.2"/>
<circle cx="1609" cy="973" r="10.4" fill="#fff" stroke="#9692f3" stroke-width="3.8"/>
<circle cx="1609" cy="973" r="4.5" fill="#fff" stroke="#9692f3" stroke-width="3.2"/>
<circle cx="1609" cy="998.7" r="10.4" fill="#fff" stroke="#9692f3" stroke-width="3.8"/>
<circle cx="1609" cy="998.7" r="4.5" fill="#fff" stroke="#9692f3" stroke-width="3.2"/>
<circle cx="1609" cy="1024.3" r="10.4" fill="#fff" stroke="#9692f3" stroke-width="3.8"/>
<circle cx="1609" cy="1024.3" r="4.5" fill="#fff" stroke="#9692f3" stroke-width="3.2"/>
<circle cx="1598.7" cy="1049" r="10.4" fill="#fff" stroke="#9692f3" stroke-width="3.8"/>
<circle cx="1598.7" cy="1049" r="4.5" fill="#fff" stroke="#9692f3" stroke-width="3.2"/>
<circle cx="1579.8" cy="1067.1" r="10.4" fill="#fff" stroke="#9692f3" stroke-width="3.8"/>
<circle cx="1579.8" cy="1067.1" r="4.5" fill="#fff" stroke="#9692f3" stroke-width="3.2"/>
<circle cx="1504.1" cy="921.8" r="3.6" fill="#9692f3"/>
<rect x="1734.2" y="664.3" width="265.7" height="645.8" fill="#fff" stroke="#000" stroke-width="5"/>
<rect x="1734" y="699.2" width="266" height="4.8" fill="#000"/>
<rect x="1734" y="1232" width="266" height="5.6" fill="#000"/>
<rect x="1778.2" y="1241.6" width="178.6" height="18" fill="#000" rx="2"/>
<rect x="1778.2" y="1264.2" width="178.6" height="18" fill="#000" rx="2"/>
<rect x="1778.2" y="1287.3" width="178.6" height="18" fill="#000" rx="2"/>
<rect x="1830.4" y="760" width="74.2" height="52.6" fill="#fff" stroke="#000" stroke-width="3.8" rx="1.5"/>
<circle cx="1817.1" cy="848" r="8.2" fill="#000"/>
<circle cx="1847.4" cy="848" r="4.2" fill="#fff" stroke="#222" stroke-width="1"/>
<line x1="1844.4" y1="845" x2="1850.4" y2="851" stroke="#222" stroke-width="1"/>
<line x1="1846.4" y1="851" x2="1849.9" y2="846" stroke="#222" stroke-width="0.8"/>
<line x1="1841.9" y1="848" x2="1843.4" y2="848" stroke="#222" stroke-width="1"/>
<circle cx="1878.1" cy="848" r="4.2" fill="#fff" stroke="#222" stroke-width="1"/>
<line x1="1876.9" y1="844" x2="1876.9" y2="852" stroke="#222" stroke-width="1"/>
<line x1="1879.5" y1="844" x2="1879.5" y2="852" stroke="#222" stroke-width="1"/>
<line x1="1872.6" y1="848" x2="1874.1" y2="848" stroke="#222" stroke-width="1"/>
<circle cx="1908.3" cy="848" r="4.2" fill="#fff" stroke="#222" stroke-width="1"/>
<line x1="1905.3" y1="845" x2="1911.3" y2="851" stroke="#222" stroke-width="1"/>
<line x1="1907.3" y1="851" x2="1910.8" y2="846" stroke="#222" stroke-width="0.8"/>
<line x1="1902.8" y1="848" x2="1904.3" y2="848" stroke="#222" stroke-width="1"/>
<circle cx="1794.1" cy="886.4" r="4.3" fill="#333"/>
<circle cx="1794.1" cy="886.4" r="1.2" fill="#999"/>
<circle cx="1828.2" cy="886.4" r="4.3" fill="#333"/>
<circle cx="1828.2" cy="886.4" r="1.2" fill="#999"/>
<circle cx="1863.2" cy="886.4" r="4.3" fill="#333"/>
<circle cx="1863.2" cy="886.4" r="1.2" fill="#999"/>
<circle cx="1897.3" cy="886.4" r="4.3" fill="#333"/>
<circle cx="1897.3" cy="886.4" r="1.2" fill="#999"/>
<circle cx="1931.4" cy="886.4" r="4.3" fill="#333"/>
<circle cx="1931.4" cy="886.4" r="1.2" fill="#999"/>
<circle cx="1794.1" cy="920.5" r="4.3" fill="#333"/>
<circle cx="1794.1" cy="920.5" r="1.2" fill="#999"/>
<circle cx="1828.2" cy="920.5" r="4.3" fill="#333"/>
<circle cx="1828.2" cy="920.5" r="1.2" fill="#999"/>
<circle cx="1863.2" cy="920.5" r="4.3" fill="#333"/>
<circle cx="1863.2" cy="920.5" r="1.2" fill="#999"/>
<circle cx="1897.3" cy="920.5" r="4.3" fill="#333"/>
<circle cx="1897.3" cy="920.5" r="1.2" fill="#999"/>
<circle cx="1931.4" cy="920.5" r="4.3" fill="#333"/>
<circle cx="1931.4" cy="920.5" r="1.2" fill="#999"/>
<circle cx="1794.1" cy="955" r="4.3" fill="#333"/>
<circle cx="1794.1" cy="955" r="1.2" fill="#999"/>
<circle cx="1828.2" cy="955" r="4.3" fill="#333"/>
<circle cx="1828.2" cy="955" r="1.2" fill="#999"/>
<circle cx="1863.2" cy="955" r="4" fill="#fff" stroke="#222" stroke-width="1"/>
<circle cx="1897.3" cy="955" r="4" fill="#fff" stroke="#222" stroke-width="1"/>
<circle cx="1931.4" cy="955" r="4" fill="#fff" stroke="#222" stroke-width="1"/>
<rect x="1956" y="975.9" width="16.6" height="61" fill="#000" rx="2.5"/>
<rect x="1963.8" y="986.7" width="1.3" height="40.7" fill="#fff"/>
<path d="M1866.8 1051.8 L1885.3 1083.3 L1848.9 1083.3 Z" fill="#000" stroke="#000" stroke-width="4" stroke-linejoin="round"/>
<path d="M1861.3 1074.8 L1863.8 1068.7 L1866.2 1074.8 Z" fill="#fff" stroke="none" stroke-width="0" />
<path d="M1872.7 1074.8 L1874.9 1069.4 L1877 1074.8 Z" fill="#fff" stroke="none" stroke-width="0" />
<rect x="1854.3" y="1076.6" width="4.3" height="2.8" fill="#fff"/>
<rect x="1860" y="1076.6" width="4.7" height="2.8" fill="#fff"/>
<rect x="1866.8" y="1076.6" width="2.7" height="2.8" fill="#fff"/>
<rect x="1873.5" y="1076.6" width="5.4" height="2.8" fill="#fff"/>
<rect x="1861.5" y="1077.4" width="1.4" height="1.2" fill="#000"/>
<rect x="1875.5" y="1077.4" width="1.6" height="1.2" fill="#000"/>
<text x="1752.8" y="687.3" font-size="22" fill="#000" textLength="35" lengthAdjust="spacingAndGlyphs" font-weight="bold" font-family="Liberation Sans">XL-21</text>
<text x="1932.8" y="687.5" font-size="19" fill="#000" textLength="42.5" lengthAdjust="spacingAndGlyphs" font-weight="bold">动力柜</text>
<text x="1889.4" y="603" font-size="31" fill="#000" textLength="94" lengthAdjust="spacing" font-weight="bold">动力柜</text>
<line x1="1892" y1="616.6" x2="1983.2" y2="616.6" stroke="#3c3c3c" stroke-width="1"/>
<line x1="1892" y1="616.6" x2="1879" y2="725.6" stroke="#3c3c3c" stroke-width="1"/>
<path d="M2164.2 660 L2210.7 655.1 L2226.3 658.9 L2235.1 677.7 L2235.6 687.7 L2219.6 692.1 L2184.1 693.2 L2170.8 692.1 L2158.6 687.7 L2164.2 660 M2158.6 687.7 L2141.5 699.9 L2158.6 704.3 L2184.1 693.2 M2235.6 687.7 L2236.2 713.2 L2230.7 728.7 M2235.1 682.1 L2186.3 717.6 M2234 689.9 L2193 724.3 M2164.2 704.3 L2159.7 713.2 L2157.5 730.9 L2163 742 L2176.4 749.8 M2170.8 709.9 L2179.7 709.9 L2185.2 717.6 L2198.5 732.1 L2185.2 746.5 L2176.4 749.8 L2165.3 739.8 L2163 725.4 L2170.8 709.9 M2179.7 709.9 L2185.2 746.5 M2185.2 746.5 L2194.1 749.8 L2203 747.6 L2224 726.5 M2228.5 725.4 L2227.4 742 M2222.9 701 L2219.6 706.5 L2221.8 713.2 L2225.2 711 L2226.3 704.3 L2222.9 701 M2228.5 715.4 L2224 733.2 L2229.6 717.6 L2227.4 730.9 L2231.8 716.5 L2230.7 728.7 M2227.4 742 L2231.8 739.8 L2239.6 747.6 L2225.2 764.2 L2203 777.1 L2198.5 761.6 L2216.3 755.4 L2227.4 742 M2176.4 749.8 L2173 756.5 L2173 770.4 M2173 756.5 L2177.5 756.5 L2189.7 786.4 L2195.2 761.6 L2198.5 761.6 M2173 756.5 L2150.8 770.9 L2142 803 L2142 848.5 L2145.3 874.7 M2239.6 749.8 L2265.1 768.7 L2281.7 788.2 L2295 829.7 L2304.6 888.4 L2304.6 922.8 L2296.1 942.8 L2281.3 960.5 L2252.9 1000 M2219.6 767.6 L2250.7 797.5 L2281.7 788.2 M2250.7 803 L2248 835.2 L2264 891.8 L2246.2 950.6 L2230.7 988.3 M2150.8 770.9 L2152 824.1 L2165.3 881.8 M2189.7 786.4 L2185.2 817.5 L2185.9 846.3 L2201.4 940.6 L2201.4 970.5 M2152 803.7 L2163.7 804.6 L2163.7 815.2 L2153.1 818.6 M2208.1 816.6 L2239.6 819.2 L2239.6 830.3 L2222.9 835.2 L2208.5 824.6 L2208.1 816.6 M2167.5 864 L2165.3 881.8 L2168.6 897.3 L2169 937.2 L2164.2 968.3 L2162.4 1000 M2145.3 861.8 L2117.1 870.7 L2058.1 873.4 M2164.2 902.2 L2124.2 905.1 L2058.1 901.8 M2058.1 873.4 L2058.1 901.8 M2070.5 872.5 L2071.4 899.1 M2058.1 873.4 L2052.1 869.6 L2042.1 867.4 L2031.1 869.6 L2028.8 871.8 L2013.8 872.5 L2011.5 876.2 L2013.3 881.3 L2027.7 880.7 L2024.4 886.2 L2026.6 895.1 L2029.9 905.1 L2053.2 903.5 L2058.1 898.4 M2031.1 869.6 L2033.3 875.1 L2028.8 881.8 L2033.3 882.9 L2035.5 876.2 L2042.1 875.6 L2045.5 884 L2052.8 887.3 M2236.2 975 L2248.4 977.2 L2255.1 983.4 M2230.7 988.3 L2244 992.7 L2252.9 1000 M2281.3 960.5 L2286.2 1000 M2162.8 980 L2162.1 1204 L2164.3 1238.4 L2159.9 1250.6 L2159.4 1282.1 M2164.3 1238.4 L2177.6 1264.6 M2159.4 1282.1 L2188.7 1285.7 L2214.7 1282.1 M2214.7 1282.1 L2215.4 1263.9 L2221.6 1135.3 L2226 1122 M2164.3 1282.8 L2156.6 1289.4 L2131.5 1296.1 L2131.1 1305.4 L2153.2 1306.5 L2171 1302.8 L2180.3 1296.1 L2182.5 1303.4 L2202 1302.1 L2204.3 1283.9 M2230.9 988.4 L2220.9 1001.1 L2217.6 1023.3 L2229.8 1027.7 L2248.2 1029.2 L2253.1 1019.9 L2256.4 1002.2 L2253.1 995.5 L2230.9 988.4 M2230.9 988.4 L2242 990 L2254.2 1001.1 L2267.5 980 M2285.2 980 L2288.6 1022.1 L2292.5 1126.4 M2286.3 1114.9 L2292.5 1133.1 L2306.3 1184.1 L2326.3 1278.4 M2211.6 1036.1 L2226 1122 L2227.6 1143 L2256.4 1241.8 L2271.9 1293.2 M2271.9 1293.2 L2295.2 1291.7 L2326.3 1278.4 M2326.3 1278.4 L2327.8 1295 L2317.4 1310.5 L2266.4 1311.6 L2268.6 1306.1 L2276.4 1293.9 M2275.2 1299.4 L2293 1300.5 M2317.4 1302.8 L2316.3 1310.5 L2305.2 1310.5 L2317.4 1302.8 " fill="none" stroke="#111" stroke-width="1.1" stroke-linejoin="round"/>
<ellipse cx="2187.4" cy="702.8" rx="4" ry="3" fill="none" stroke="#111" stroke-width="1"/>
<line x1="258.6" y1="628" x2="258.6" y2="945.8" stroke="#3c3c3c" stroke-width="1"/>
<line x1="1701.7" y1="628" x2="1701.7" y2="1372" stroke="#3c3c3c" stroke-width="1"/>
<line x1="258.6" y1="644.3" x2="1701.7" y2="644.3" stroke="#3c3c3c" stroke-width="1"/>
<polygon points="258.6,644.3 277.6,641.1 277.6,647.5" fill="#333"/>
<polygon points="1701.7,644.3 1682.7,647.5 1682.7,641.1" fill="#333"/>
<text x="936" y="632" font-size="34" fill="#333" textLength="44" lengthAdjust="spacingAndGlyphs">L1</text>
<line x1="258.6" y1="756.4" x2="449.5" y2="756.4" stroke="#3c3c3c" stroke-width="1"/>
<polygon points="258.6,756.4 277.6,753.2 277.6,759.6" fill="#333"/>
<polygon points="449.5,756.4 430.5,759.6 430.5,753.2" fill="#333"/>
<line x1="449.5" y1="725.7" x2="449.5" y2="1357" stroke="#3c3c3c" stroke-width="1"/>
<text x="324.5" y="739.4" font-size="38" fill="#4a4a4a" font-family="'Liberation Sans',sans-serif" textLength="51" lengthAdjust="spacingAndGlyphs">501</text>
<line x1="963.3" y1="737" x2="963.3" y2="771" stroke="#3c3c3c" stroke-width="1"/>
<line x1="1205.6" y1="737" x2="1205.6" y2="771" stroke="#3c3c3c" stroke-width="1"/>
<line x1="963.3" y1="752.4" x2="1205.6" y2="752.4" stroke="#3c3c3c" stroke-width="1"/>
<polygon points="963.3,752.4 982.3,749.2 982.3,755.6" fill="#333"/>
<polygon points="1205.6,752.4 1186.6,755.6 1186.6,749.2" fill="#333"/>
<text x="1034" y="734.5" font-size="38" fill="#4a4a4a" font-family="'Liberation Sans',sans-serif" textLength="100" lengthAdjust="spacingAndGlyphs">(637)</text>
<line x1="221.8" y1="1312.2" x2="412" y2="1312.2" stroke="#3c3c3c" stroke-width="1"/>
<line x1="237.9" y1="930.3" x2="237.9" y2="1312.2" stroke="#3c3c3c" stroke-width="1"/>
<polygon points="237.9,930.3 241.1,949.3 234.7,949.3" fill="#333"/>
<polygon points="237.9,1312.2 234.7,1293.2 241.1,1293.2" fill="#333"/>
<text transform="translate(198.8 1167.8) rotate(-90)" x="2" y="28" font-size="39" fill="#4a4a4a" font-family="'Liberation Sans',sans-serif" textLength="86" lengthAdjust="spacingAndGlyphs">1000</text>
<line x1="360.8" y1="1093.4" x2="360.8" y2="1312.2" stroke="#3c3c3c" stroke-width="1"/>
<polygon points="360.8,1093.4 364,1112.4 357.6,1112.4" fill="#333"/>
<polygon points="360.8,1312.2 357.6,1293.2 364,1293.2" fill="#333"/>
<text transform="translate(322.2 1236.5) rotate(-90)" x="1" y="28" font-size="39" fill="#4a4a4a" font-family="'Liberation Sans',sans-serif" textLength="64" lengthAdjust="spacingAndGlyphs">580</text>
<line x1="449.5" y1="1341.5" x2="1701.7" y2="1341.5" stroke="#3c3c3c" stroke-width="1"/>
<polygon points="449.5,1341.5 468.5,1338.3 468.5,1344.7" fill="#333"/>
<polygon points="1466.2,1341.5 1447.2,1344.7 1447.2,1338.3" fill="#333"/>
<polygon points="1466.2,1341.5 1485.2,1338.3 1485.2,1344.7" fill="#333"/>
<polygon points="1701.7,1341.5 1682.7,1344.7 1682.7,1338.3" fill="#333"/>
<text x="936" y="1329.5" font-size="34" fill="#333" textLength="46" lengthAdjust="spacingAndGlyphs">L2</text>
<text x="1551" y="1329" font-size="42" fill="#4a4a4a" font-family="'Liberation Sans',sans-serif" textLength="64" lengthAdjust="spacingAndGlyphs">617</text>
<line x1="2218.4" y1="655" x2="2417.6" y2="655" stroke="#3c3c3c" stroke-width="1"/>
<line x1="2266.4" y1="1311.2" x2="2417.6" y2="1311.2" stroke="#3c3c3c" stroke-width="1"/>
<line x1="2387" y1="655" x2="2387" y2="1311.2" stroke="#3c3c3c" stroke-width="1"/>
<polygon points="2387,655 2390.2,679 2383.8,679" fill="#333"/>
<polygon points="2387,1311.2 2383.8,1287.2 2390.2,1287.2" fill="#333"/>
<text transform="translate(2343.2 1032.8) rotate(-90)" x="2" y="33.6" font-size="46" fill="#4a4a4a" font-family="'Liberation Sans',sans-serif" textLength="95" lengthAdjust="spacingAndGlyphs">1720</text>
<text x="404" y="698.8" font-size="41" fill="#111" textLength="12" lengthAdjust="spacingAndGlyphs">1</text>
<line x1="385.1" y1="707" x2="427" y2="707" stroke="#3c3c3c" stroke-width="1"/>
<line x1="427" y1="707" x2="449.2" y2="816.9" stroke="#3c3c3c" stroke-width="1"/>
<polygon points="449.2,816.9 445.5,806.4 448.6,805.8" fill="#333"/>
<text x="458" y="698.8" font-size="41" fill="#111" textLength="14.5" lengthAdjust="spacingAndGlyphs">2</text>
<line x1="439.3" y1="707" x2="487.6" y2="707" stroke="#3c3c3c" stroke-width="1"/>
<line x1="487.6" y1="707" x2="502.4" y2="799.6" stroke="#3c3c3c" stroke-width="1"/>
<polygon points="502.4,799.6 499.1,789 502.2,788.5" fill="#333"/>
<text x="526.5" y="698.8" font-size="41" fill="#111" textLength="14.5" lengthAdjust="spacingAndGlyphs">3</text>
<line x1="507.3" y1="707" x2="555.1" y2="707" stroke="#3c3c3c" stroke-width="1"/>
<line x1="555.1" y1="707" x2="570.9" y2="799.6" stroke="#3c3c3c" stroke-width="1"/>
<polygon points="570.9,799.6 567.5,789 570.6,788.5" fill="#333"/>
<text x="598.3" y="698.8" font-size="41" fill="#111" textLength="15" lengthAdjust="spacingAndGlyphs">4</text>
<line x1="579.8" y1="707" x2="626.6" y2="707" stroke="#3c3c3c" stroke-width="1"/>
<line x1="626.6" y1="707" x2="643.9" y2="799.6" stroke="#3c3c3c" stroke-width="1"/>
<polygon points="643.9,799.6 640.3,789.1 643.5,788.5" fill="#333"/>
<text x="695.5" y="698.8" font-size="41" fill="#111" textLength="14.5" lengthAdjust="spacingAndGlyphs">5</text>
<line x1="675.9" y1="707" x2="724.2" y2="707" stroke="#3c3c3c" stroke-width="1"/>
<line x1="724.2" y1="707" x2="758.7" y2="913" stroke="#3c3c3c" stroke-width="1"/>
<polygon points="758.7,913 755.3,902.4 758.5,901.9" fill="#333"/>
<text x="775.8" y="698.8" font-size="41" fill="#111" textLength="14.5" lengthAdjust="spacingAndGlyphs">6</text>
<line x1="756.2" y1="707" x2="805.5" y2="707" stroke="#3c3c3c" stroke-width="1"/>
<line x1="805.5" y1="707" x2="820.3" y2="797.1" stroke="#3c3c3c" stroke-width="1"/>
<polygon points="820.3,797.1 816.9,786.5 820.1,786" fill="#333"/>
<text x="1164.5" y="698.8" font-size="41" fill="#111" textLength="14.5" lengthAdjust="spacingAndGlyphs">7</text>
<line x1="1146.3" y1="707" x2="1194.1" y2="707" stroke="#3c3c3c" stroke-width="1"/>
<line x1="1194.1" y1="707" x2="1213.8" y2="797" stroke="#3c3c3c" stroke-width="1"/>
<polygon points="1213.8,797 1209.9,786.6 1213,785.9" fill="#333"/>
<text x="1249.8" y="698.8" font-size="41" fill="#111" textLength="15" lengthAdjust="spacingAndGlyphs">8</text>
<line x1="1230" y1="707" x2="1277.9" y2="707" stroke="#3c3c3c" stroke-width="1"/>
<line x1="1277.9" y1="707" x2="1296.1" y2="799.6" stroke="#3c3c3c" stroke-width="1"/>
<polygon points="1296.1,799.6 1292.4,789.1 1295.5,788.5" fill="#333"/>
<text x="1447.5" y="698.8" font-size="41" fill="#111" textLength="28" lengthAdjust="spacingAndGlyphs">10</text>
<line x1="1445.5" y1="707" x2="1477.5" y2="707" stroke="#3c3c3c" stroke-width="1"/>
<line x1="1477.5" y1="707" x2="1514.5" y2="908" stroke="#3c3c3c" stroke-width="1"/>
<polygon points="1514.5,908 1510.9,897.5 1514.1,896.9" fill="#333"/>
<text x="1547.5" y="698.8" font-size="41" fill="#111" textLength="26" lengthAdjust="spacingAndGlyphs">11</text>
<line x1="1542.6" y1="707" x2="1576" y2="707" stroke="#3c3c3c" stroke-width="1"/>
<line x1="1576" y1="707" x2="1613" y2="909.5" stroke="#3c3c3c" stroke-width="1"/>
<polygon points="1613,909.5 1609.4,899 1612.6,898.4" fill="#333"/>
<text x="1159" y="539.5" font-size="46" fill="#111" textLength="15.5" lengthAdjust="spacingAndGlyphs">9</text>
<line x1="1151.8" y1="547.6" x2="1198" y2="547.6" stroke="#3c3c3c" stroke-width="1"/>
<line x1="1198" y1="547.6" x2="1342.1" y2="443.7" stroke="#3c3c3c" stroke-width="1"/>
<polygon points="1342.1,443.7 1332.8,453.1 1330.3,449.5" fill="#333"/>
<text x="1184" y="1309.6" font-size="36" fill="#000" textLength="35" lengthAdjust="spacingAndGlyphs" font-weight="bold">12</text>
<line x1="1174.4" y1="1317.9" x2="1223.7" y2="1317.9" stroke="#3c3c3c" stroke-width="1"/>
<line x1="1174.4" y1="1317.9" x2="1151.2" y2="1157.7" stroke="#3c3c3c" stroke-width="1"/>
<text x="330" y="1059" font-size="40" fill="#4a4a4a" font-family="'Liberation Sans',sans-serif" textLength="17" lengthAdjust="spacingAndGlyphs">E</text>
<line x1="303.2" y1="1002.7" x2="327.9" y2="1059.5" stroke="#3c3c3c" stroke-width="1"/>
<line x1="327.9" y1="1059.5" x2="349.6" y2="1059.5" stroke="#3c3c3c" stroke-width="1"/>
<polygon points="303.2,1002.7 308.7,1011.2 305.7,1012.5" fill="#333"/>
<text x="564" y="207.6" font-size="67" fill="#111" textLength="53" lengthAdjust="spacingAndGlyphs" stroke="#111" stroke-width="0.4">X</text>
<text x="619" y="175.9" font-size="33" fill="#111" textLength="28" lengthAdjust="spacingAndGlyphs" stroke="#111" stroke-width="0.2">A</text>
<text x="617" y="213.9" font-size="33" fill="#111" textLength="34" lengthAdjust="spacingAndGlyphs" stroke="#111" stroke-width="0.2">M</text>
<text x="654" y="207.6" font-size="67" fill="#111" textLength="278" lengthAdjust="spacingAndGlyphs" stroke="#111" stroke-width="0.4">ZGQF20</text>
<path d="M935 190 C944 174 957 174 965 182 C973 190 984 190 991 176" fill="none" stroke="#111" stroke-width="4.5" />
<text x="998" y="207.6" font-size="67" fill="#111" textLength="77" lengthAdjust="spacingAndGlyphs" stroke="#111" stroke-width="0.4">80</text>
<line x1="1086" y1="217" x2="1110.5" y2="156" stroke="#111" stroke-width="4.2"/>
<text x="1121.5" y="207.6" font-size="67" fill="#111" textLength="191.5" lengthAdjust="spacingAndGlyphs" stroke="#111" stroke-width="0.4">800-U</text>
<text x="1337" y="174.9" font-size="33" fill="#111" textLength="24" lengthAdjust="spacingAndGlyphs" stroke="#111" stroke-width="0.2">B</text>
<text x="1337" y="212.9" font-size="33" fill="#111" textLength="26" lengthAdjust="spacingAndGlyphs" stroke="#111" stroke-width="0.2">K</text>
<text x="1386" y="211" font-size="64" fill="#000" textLength="517.6" lengthAdjust="spacing">全自动隔膜压滤机</text>
<text x="228" y="336.4" font-size="51" fill="#000" textLength="420.8" lengthAdjust="spacing" font-weight="bold">一、结构与基础图</text>
<text x="229" y="1386" font-size="50" fill="#000" textLength="102" lengthAdjust="spacing" font-weight="bold">备注</text>
<circle cx="344" cy="1356" r="4.2" fill="#000"/>
<circle cx="344" cy="1381" r="4.2" fill="#000"/>
<text x="225" y="2338.4" font-size="51" fill="#000" textLength="210" lengthAdjust="spacing" font-weight="bold">基础中心</text>
<text x="225" y="2648.9" font-size="51" fill="#000" textLength="315" lengthAdjust="spacing" font-weight="bold">二、制造标准</text>
<text x="230" y="1461.8" font-size="41.7" fill="#222" textLength="30" lengthAdjust="spacingAndGlyphs" stroke="#222" stroke-width="0.3">1.</text>
<text x="268" y="1461" font-size="41.7" fill="#222" textLength="418.2" lengthAdjust="spacing">安装时校正横梁上平面</text>
<text x="689" y="1463.8" font-size="41.7" fill="#222" textLength="8" lengthAdjust="spacingAndGlyphs" stroke="#222" stroke-width="0.3">,</text>
<text x="703" y="1461" font-size="41.7" fill="#222" textLength="79" lengthAdjust="spacing">允差</text>
<text x="784" y="1461.8" font-size="41.7" fill="#222" textLength="113" lengthAdjust="spacingAndGlyphs" stroke="#222" stroke-width="0.3">2mm.</text>
<text x="229" y="1520.8" font-size="41.7" fill="#222" textLength="34" lengthAdjust="spacingAndGlyphs" stroke="#222" stroke-width="0.3">2.</text>
<text x="270.5" y="1520" font-size="41.7" fill="#222" textLength="2007.4" lengthAdjust="spacing">当地脚螺栓连接孔为长孔时，地脚螺栓居长孔中间位置。安装完成后必须松开长孔对应的螺母，使垫圈松动，</text>
<text x="274" y="1576" font-size="41.7" fill="#222" textLength="1045.5" lengthAdjust="spacing">以确保机架在巨大的压紧力作用下能作微量的水平位移。</text>
<text x="229" y="1628.8" font-size="41.7" fill="#222" textLength="34" lengthAdjust="spacingAndGlyphs" stroke="#222" stroke-width="0.3">3.</text>
<text x="270.5" y="1628.5" font-size="41.7" fill="#222" textLength="1965.5" lengthAdjust="spacing">进料端须固定，压紧端可以不固定，基础以外的地基结构由土建工程师根据土层结构决定。钢架结构由钢结</text>
<text x="260.5" y="1682.5" font-size="41.7" fill="#222" textLength="836.4" lengthAdjust="spacing">构板焊冷作工程师，根据现场布局情况而定。</text>
<text x="208" y="3323.9" font-size="29" fill="#111" textLength="2000.2" lengthAdjust="spacing">备注：产品不定期技术改进，因此本公司有随时更改设计参数及机械结构之权力，不再另行通知，收到商品和本技术图有出入的，以合同为主。</text>
<text x="1186" y="3392.2" font-size="40" fill="#333" textLength="104" lengthAdjust="spacingAndGlyphs" stroke="#333" stroke-width="0.2">· 86 ·</text>
<rect x="227.1" y="1711.1" width="2023" height="534.9" fill="none" stroke="#000" stroke-width="5.2"/>
<line x1="229.7" y1="1787.2" x2="2247.5" y2="1787.2" stroke="#222" stroke-width="1.3"/>
<line x1="229.7" y1="1863.8" x2="2247.5" y2="1863.8" stroke="#222" stroke-width="1.3"/>
<line x1="229.7" y1="1940.3" x2="2247.5" y2="1940.3" stroke="#222" stroke-width="1.3"/>
<line x1="229.7" y1="2016.8" x2="2247.5" y2="2016.8" stroke="#222" stroke-width="1.3"/>
<line x1="229.7" y1="2093.3" x2="2247.5" y2="2093.3" stroke="#222" stroke-width="1.3"/>
<line x1="229.7" y1="2169.1" x2="2247.5" y2="2169.1" stroke="#222" stroke-width="1.3"/>
<line x1="732.3" y1="1713.7" x2="732.3" y2="2243.4" stroke="#222" stroke-width="1.3"/>
<line x1="1238" y1="1713.7" x2="1238" y2="2243.4" stroke="#222" stroke-width="1.3"/>
<line x1="1743.6" y1="1713.7" x2="1743.6" y2="2243.4" stroke="#222" stroke-width="1.3"/>
<text x="411" y="1764.5" font-size="41.7" fill="#222" textLength="41.8" lengthAdjust="spacing">序</text>
<text x="507.5" y="1764.5" font-size="41.7" fill="#222" textLength="41.8" lengthAdjust="spacing">号</text>
<text x="918" y="1764.5" font-size="41.7" fill="#222" textLength="41.8" lengthAdjust="spacing">名</text>
<text x="1012.5" y="1764.5" font-size="41.7" fill="#222" textLength="41.8" lengthAdjust="spacing">称</text>
<text x="1423" y="1764.5" font-size="41.7" fill="#222" textLength="41.8" lengthAdjust="spacing">序</text>
<text x="1519" y="1764.5" font-size="41.7" fill="#222" textLength="41.8" lengthAdjust="spacing">号</text>
<text x="1930" y="1764.5" font-size="41.7" fill="#222" textLength="41.8" lengthAdjust="spacing">名</text>
<text x="2024.5" y="1764.5" font-size="41.7" fill="#222" textLength="41.8" lengthAdjust="spacing">称</text>
<text x="471.4" y="1840.8" font-size="41.7" fill="#222" textLength="16" lengthAdjust="spacingAndGlyphs" stroke="#222" stroke-width="0.3">1</text>
<text x="922.5" y="1841" font-size="41.7" fill="#222" textLength="125.5" lengthAdjust="spacing">止推板</text>
<text x="1479.8" y="1840.8" font-size="41.7" fill="#222" textLength="22" lengthAdjust="spacingAndGlyphs" stroke="#222" stroke-width="0.3">7</text>
<text x="1955.5" y="1841" font-size="41.7" fill="#222" textLength="83.6" lengthAdjust="spacing">尾板</text>
<text x="468.4" y="1917.3" font-size="41.7" fill="#222" textLength="22" lengthAdjust="spacingAndGlyphs" stroke="#222" stroke-width="0.3">2</text>
<text x="937" y="1917.5" font-size="41.7" fill="#222" textLength="41.8" lengthAdjust="spacing">头</text>
<text x="990.5" y="1917.5" font-size="41.7" fill="#222" textLength="41.8" lengthAdjust="spacing">板</text>
<text x="1479.8" y="1917.3" font-size="41.7" fill="#222" textLength="22" lengthAdjust="spacingAndGlyphs" stroke="#222" stroke-width="0.3">8</text>
<text x="1934.6" y="1917.5" font-size="41.7" fill="#222" textLength="125.5" lengthAdjust="spacing">压紧板</text>
<text x="468.4" y="1993.8" font-size="41.7" fill="#222" textLength="22" lengthAdjust="spacingAndGlyphs" stroke="#222" stroke-width="0.3">3</text>
<text x="922.5" y="1994" font-size="41.7" fill="#222" textLength="125.5" lengthAdjust="spacing">隔膜板</text>
<text x="1479.8" y="1993.8" font-size="41.7" fill="#222" textLength="22" lengthAdjust="spacingAndGlyphs" stroke="#222" stroke-width="0.3">9</text>
<text x="1871.8" y="1994" font-size="41.7" fill="#000" textLength="250.9" lengthAdjust="spacing" font-weight="bold">清洗小车系统</text>
<text x="468.4" y="2070.3" font-size="41.7" fill="#222" textLength="22" lengthAdjust="spacingAndGlyphs" stroke="#222" stroke-width="0.3">4</text>
<text x="943.4" y="2070.5" font-size="41.7" fill="#222" textLength="83.6" lengthAdjust="spacing">滤板</text>
<text x="1467.3" y="2070.3" font-size="41.7" fill="#222" textLength="47" lengthAdjust="spacingAndGlyphs" stroke="#222" stroke-width="0.3">10</text>
<text x="1850.9" y="2070.5" font-size="41.7" fill="#000" textLength="292.7" lengthAdjust="spacing" font-weight="bold">拉板及传动系统</text>
<text x="468.4" y="2146.3" font-size="41.7" fill="#222" textLength="22" lengthAdjust="spacingAndGlyphs" stroke="#222" stroke-width="0.3">5</text>
<text x="943.4" y="2146.5" font-size="41.7" fill="#222" textLength="83.6" lengthAdjust="spacing">横梁</text>
<text x="1469.8" y="2146.3" font-size="41.7" fill="#222" textLength="42" lengthAdjust="spacingAndGlyphs" stroke="#222" stroke-width="0.3">11</text>
<text x="1830" y="2146.5" font-size="41.7" fill="#000" textLength="334.6" lengthAdjust="spacing" font-weight="bold">油缸座及油缸总成</text>
<text x="468.4" y="2222.3" font-size="41.7" fill="#222" textLength="22" lengthAdjust="spacingAndGlyphs" stroke="#222" stroke-width="0.3">6</text>
<text x="943.4" y="2222.5" font-size="41.7" fill="#222" textLength="83.6" lengthAdjust="spacing">滤布</text>
<text x="1467.3" y="2222.3" font-size="41.7" fill="#222" textLength="47" lengthAdjust="spacingAndGlyphs" stroke="#222" stroke-width="0.3">12</text>
<text x="1913.7" y="2222.5" font-size="41.7" fill="#000" textLength="167.3" lengthAdjust="spacing" font-weight="bold">翻板装置</text>
<rect x="227.1" y="2399" width="2023" height="153" fill="none" stroke="#000" stroke-width="5.2"/>
<line x1="229.7" y1="2475.2" x2="2247.5" y2="2475.2" stroke="#222" stroke-width="1.3"/>
<line x1="547.5" y1="2401.6" x2="547.5" y2="2549.4" stroke="#222" stroke-width="1.3"/>
<line x1="717.8" y1="2401.6" x2="717.8" y2="2549.4" stroke="#222" stroke-width="1.3"/>
<line x1="888.1" y1="2401.6" x2="888.1" y2="2549.4" stroke="#222" stroke-width="1.3"/>
<line x1="1058.4" y1="2401.6" x2="1058.4" y2="2549.4" stroke="#222" stroke-width="1.3"/>
<line x1="1228.7" y1="2401.6" x2="1228.7" y2="2549.4" stroke="#222" stroke-width="1.3"/>
<line x1="1399" y1="2401.6" x2="1399" y2="2549.4" stroke="#222" stroke-width="1.3"/>
<line x1="1569.3" y1="2401.6" x2="1569.3" y2="2549.4" stroke="#222" stroke-width="1.3"/>
<line x1="1739.6" y1="2401.6" x2="1739.6" y2="2549.4" stroke="#222" stroke-width="1.3"/>
<line x1="1909.9" y1="2401.6" x2="1909.9" y2="2549.4" stroke="#222" stroke-width="1.3"/>
<line x1="2080.2" y1="2401.6" x2="2080.2" y2="2549.4" stroke="#222" stroke-width="1.3"/>
<text x="246" y="2452.5" font-size="41.7" fill="#222" textLength="209.1" lengthAdjust="spacing">过滤面积（</text>
<text x="449" y="2451.8" font-size="41.7" fill="#222" textLength="60" lengthAdjust="spacingAndGlyphs" stroke="#222" stroke-width="0.3">m²</text>
<text x="512" y="2452.5" font-size="41.7" fill="#222" textLength="41.8" lengthAdjust="spacing">）</text>
<text x="248" y="2527" font-size="41.7" fill="#222" textLength="83.6" lengthAdjust="spacing">尺寸</text>
<text x="326" y="2527.8" font-size="41.7" fill="#222" textLength="56" lengthAdjust="spacingAndGlyphs" stroke="#222" stroke-width="0.3">L2</text>
<text x="382" y="2527" font-size="41.7" fill="#222" textLength="41.8" lengthAdjust="spacing">（</text>
<text x="424.5" y="2528.3" font-size="41.7" fill="#222" textLength="78" lengthAdjust="spacingAndGlyphs" stroke="#222" stroke-width="0.3">mm</text>
<text x="508" y="2527" font-size="41.7" fill="#222" textLength="41.8" lengthAdjust="spacing">）</text>
<text x="610.1" y="2449.8" font-size="41.7" fill="#222" textLength="45" lengthAdjust="spacingAndGlyphs" stroke="#222" stroke-width="0.3">10</text>
<text x="581.6" y="2526.8" font-size="41.7" fill="#222" textLength="102" lengthAdjust="spacingAndGlyphs" stroke="#222" stroke-width="0.3">2040</text>
<text x="780.4" y="2449.8" font-size="41.7" fill="#222" textLength="45" lengthAdjust="spacingAndGlyphs" stroke="#222" stroke-width="0.3">15</text>
<text x="751.9" y="2526.8" font-size="41.7" fill="#222" textLength="102" lengthAdjust="spacingAndGlyphs" stroke="#222" stroke-width="0.3">2234</text>
<text x="948.8" y="2449.8" font-size="41.7" fill="#222" textLength="49" lengthAdjust="spacingAndGlyphs" stroke="#222" stroke-width="0.3">20</text>
<text x="922.2" y="2526.8" font-size="41.7" fill="#222" textLength="102" lengthAdjust="spacingAndGlyphs" stroke="#222" stroke-width="0.3">2665</text>
<text x="1119.1" y="2449.8" font-size="41.7" fill="#222" textLength="49" lengthAdjust="spacingAndGlyphs" stroke="#222" stroke-width="0.3">25</text>
<text x="1092.6" y="2526.8" font-size="41.7" fill="#222" textLength="102" lengthAdjust="spacingAndGlyphs" stroke="#222" stroke-width="0.3">2977</text>
<text x="1289.4" y="2449.8" font-size="41.7" fill="#222" textLength="49" lengthAdjust="spacingAndGlyphs" stroke="#222" stroke-width="0.3">30</text>
<text x="1262.9" y="2526.8" font-size="41.7" fill="#222" textLength="102" lengthAdjust="spacingAndGlyphs" stroke="#222" stroke-width="0.3">3290</text>
<text x="1459.7" y="2449.8" font-size="41.7" fill="#222" textLength="49" lengthAdjust="spacingAndGlyphs" stroke="#222" stroke-width="0.3">40</text>
<text x="1433.2" y="2526.8" font-size="41.7" fill="#222" textLength="102" lengthAdjust="spacingAndGlyphs" stroke="#222" stroke-width="0.3">3915</text>
<text x="1630" y="2449.8" font-size="41.7" fill="#222" textLength="49" lengthAdjust="spacingAndGlyphs" stroke="#222" stroke-width="0.3">50</text>
<text x="1603.5" y="2526.8" font-size="41.7" fill="#222" textLength="102" lengthAdjust="spacingAndGlyphs" stroke="#222" stroke-width="0.3">4540</text>
<text x="1800.3" y="2449.8" font-size="41.7" fill="#222" textLength="49" lengthAdjust="spacingAndGlyphs" stroke="#222" stroke-width="0.3">60</text>
<text x="1773.8" y="2526.8" font-size="41.7" fill="#222" textLength="102" lengthAdjust="spacingAndGlyphs" stroke="#222" stroke-width="0.3">5165</text>
<text x="1970.6" y="2449.8" font-size="41.7" fill="#222" textLength="49" lengthAdjust="spacingAndGlyphs" stroke="#222" stroke-width="0.3">70</text>
<text x="1944.1" y="2526.8" font-size="41.7" fill="#222" textLength="102" lengthAdjust="spacingAndGlyphs" stroke="#222" stroke-width="0.3">5790</text>
<text x="2140.8" y="2449.8" font-size="41.7" fill="#222" textLength="49" lengthAdjust="spacingAndGlyphs" stroke="#222" stroke-width="0.3">80</text>
<text x="2114.3" y="2526.8" font-size="41.7" fill="#222" textLength="102" lengthAdjust="spacingAndGlyphs" stroke="#222" stroke-width="0.3">6415</text>
<rect x="227.1" y="2703.8" width="2023" height="534.2" fill="none" stroke="#000" stroke-width="5.2"/>
<line x1="229.7" y1="2780" x2="2247.5" y2="2780" stroke="#222" stroke-width="1.3"/>
<line x1="229.7" y1="2856.4" x2="2247.5" y2="2856.4" stroke="#222" stroke-width="1.3"/>
<line x1="229.7" y1="2932.9" x2="2247.5" y2="2932.9" stroke="#222" stroke-width="1.3"/>
<line x1="229.7" y1="3009.3" x2="2247.5" y2="3009.3" stroke="#222" stroke-width="1.3"/>
<line x1="229.7" y1="3085.8" x2="2247.5" y2="3085.8" stroke="#222" stroke-width="1.3"/>
<line x1="229.7" y1="3162.2" x2="2247.5" y2="3162.2" stroke="#222" stroke-width="1.3"/>
<line x1="732.3" y1="2706.4" x2="732.3" y2="3235.4" stroke="#222" stroke-width="1.3"/>
<line x1="1743.5" y1="2706.4" x2="1743.5" y2="3235.4" stroke="#222" stroke-width="1.3"/>
<text x="254" y="2757" font-size="41.7" fill="#222" textLength="167.3" lengthAdjust="spacing">标准代号</text>
<text x="1150" y="2757" font-size="41.7" fill="#222" textLength="41.8" lengthAdjust="spacing">内</text>
<text x="1285.5" y="2757" font-size="41.7" fill="#222" textLength="41.8" lengthAdjust="spacing">容</text>
<text x="1919" y="2757" font-size="41.7" fill="#222" textLength="41.8" lengthAdjust="spacing">类</text>
<text x="2029" y="2757" font-size="41.7" fill="#222" textLength="41.8" lengthAdjust="spacing">别</text>
<text x="248" y="2831.2" font-size="41.7" fill="#222" textLength="373.5" lengthAdjust="spacingAndGlyphs" stroke="#222" stroke-width="0.3">JB/T4333.1-2005</text>
<text x="813.5" y="2833.5" font-size="41.7" fill="#222" textLength="839" lengthAdjust="spacing">《厢式压滤机和板框压滤机型式与基本参数》</text>
<text x="1910.4" y="2833.5" font-size="41.7" fill="#222" textLength="167.3" lengthAdjust="spacing">行业标准</text>
<text x="248" y="2907.7" font-size="41.7" fill="#222" textLength="373.5" lengthAdjust="spacingAndGlyphs" stroke="#222" stroke-width="0.3">JB/T4333.2-2005</text>
<text x="876.4" y="2909.9" font-size="41.7" fill="#222" textLength="713.2" lengthAdjust="spacing">《厢式压滤机和板框压滤机技术条件》</text>
<text x="1910.4" y="2909.9" font-size="41.7" fill="#222" textLength="167.3" lengthAdjust="spacing">行业标准</text>
<text x="248" y="2984.1" font-size="41.7" fill="#222" textLength="373.5" lengthAdjust="spacingAndGlyphs" stroke="#222" stroke-width="0.3">JB/T4333.3-2005</text>
<text x="918.4" y="2986.4" font-size="41.7" fill="#222" textLength="629.2" lengthAdjust="spacing">《厢式压滤机和板框压滤机滤板》</text>
<text x="1910.4" y="2986.4" font-size="41.7" fill="#222" textLength="167.3" lengthAdjust="spacing">行业标准</text>
<text x="248" y="3060.6" font-size="41.7" fill="#222" textLength="373.5" lengthAdjust="spacingAndGlyphs" stroke="#222" stroke-width="0.3">JB/T4333.4-2005</text>
<text x="876.4" y="3062.8" font-size="41.7" fill="#222" textLength="713.2" lengthAdjust="spacing">《厢式压滤机和板框压滤机隔膜滤板》</text>
<text x="1910.4" y="3062.8" font-size="41.7" fill="#222" textLength="167.3" lengthAdjust="spacing">行业标准</text>
<text x="248" y="3137" font-size="41.7" fill="#222" textLength="341" lengthAdjust="spacingAndGlyphs" stroke="#222" stroke-width="0.3">GB/T3766-2015</text>
<text x="981.3" y="3139.3" font-size="41.7" fill="#222" textLength="503.4" lengthAdjust="spacing">《液压系统通用技术条件》</text>
<text x="1910.4" y="3139.3" font-size="41.7" fill="#222" textLength="167.3" lengthAdjust="spacing">国家标准</text>
<text x="248" y="3213.5" font-size="41.7" fill="#222" textLength="366" lengthAdjust="spacingAndGlyphs" stroke="#222" stroke-width="0.3">GB/T25276-2012</text>
<text x="981.3" y="3215.7" font-size="41.7" fill="#222" textLength="503.4" lengthAdjust="spacing">《电器设备安全通用导则》</text>
<text x="1910.4" y="3215.7" font-size="41.7" fill="#222" textLength="167.3" lengthAdjust="spacing">国家标准</text>
</svg>
</body></html>
